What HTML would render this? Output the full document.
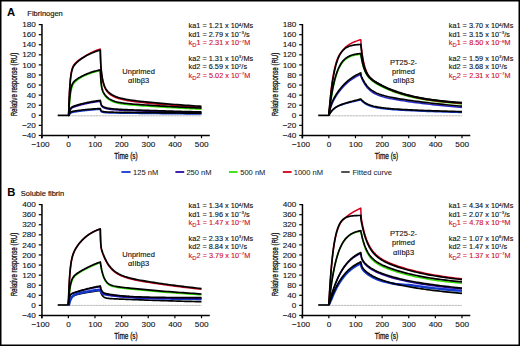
<!DOCTYPE html>
<html><head><meta charset="utf-8"><style>
html,body{margin:0;padding:0;background:#fff;}
svg{display:block;}
text{font-family:"Liberation Sans",sans-serif;fill:#111;}
.tk{font-size:7.2px;stroke:#111;stroke-width:0.1px;}
.ttl{font-size:8.6px;stroke:#111;stroke-width:0.3px;}
.pl{font-size:10.4px;font-weight:bold;fill:#000;}
.hd{font-size:7.5px;fill:#111;stroke:#111;stroke-width:0.15px;}
.kb{font-size:6.9px;fill:#111;stroke:#111;stroke-width:0.12px;}
.kr{font-size:6.9px;fill:#d0102a;stroke:#d0102a;stroke-width:0.12px;}
.lb{font-size:7.3px;fill:#111;stroke:#111;stroke-width:0.12px;}
.lg{font-size:7.2px;fill:#1a1a1a;stroke:#1a1a1a;stroke-width:0.05px;}
</style></head>
<body><svg width="520" height="346" viewBox="0 0 520 346">
<rect x="0.75" y="0.75" width="518.5" height="344.5" fill="none" stroke="#000" stroke-width="1.5"/>
<text transform="translate(6.90 16.00) scale(1.080 1)" class="pl">A</text>
<text transform="translate(27.30 15.50) scale(1.000 1)" class="hd">Fibrinogen</text>
<text transform="translate(7.20 196.30) scale(1.080 1)" class="pl">B</text>
<text transform="translate(20.80 195.50) scale(1.000 1)" class="hd">Soluble fibrin</text>
<path d="M41.95 24.00V138.35" stroke="#000" stroke-width="1.5" fill="none"/>
<path d="M41.20 135.45H209.80" stroke="#000" stroke-width="1.5" fill="none"/>
<path d="M38.75 24.60H41.95" stroke="#000" stroke-width="1.2"/>
<text transform="translate(35.90 27.20) scale(1.140 1)" class="tk" text-anchor="end">180</text>
<path d="M38.75 34.68H41.95" stroke="#000" stroke-width="1.2"/>
<text transform="translate(35.90 37.28) scale(1.140 1)" class="tk" text-anchor="end">160</text>
<path d="M38.75 44.75H41.95" stroke="#000" stroke-width="1.2"/>
<text transform="translate(35.90 47.35) scale(1.140 1)" class="tk" text-anchor="end">140</text>
<path d="M38.75 54.83H41.95" stroke="#000" stroke-width="1.2"/>
<text transform="translate(35.90 57.43) scale(1.140 1)" class="tk" text-anchor="end">120</text>
<path d="M38.75 64.91H41.95" stroke="#000" stroke-width="1.2"/>
<text transform="translate(35.90 67.51) scale(1.140 1)" class="tk" text-anchor="end">100</text>
<path d="M38.75 74.99H41.95" stroke="#000" stroke-width="1.2"/>
<text transform="translate(35.90 77.59) scale(1.140 1)" class="tk" text-anchor="end">80</text>
<path d="M38.75 85.06H41.95" stroke="#000" stroke-width="1.2"/>
<text transform="translate(35.90 87.66) scale(1.140 1)" class="tk" text-anchor="end">60</text>
<path d="M38.75 95.14H41.95" stroke="#000" stroke-width="1.2"/>
<text transform="translate(35.90 97.74) scale(1.140 1)" class="tk" text-anchor="end">40</text>
<path d="M38.75 105.22H41.95" stroke="#000" stroke-width="1.2"/>
<text transform="translate(35.90 107.82) scale(1.140 1)" class="tk" text-anchor="end">20</text>
<path d="M38.75 115.30H41.95" stroke="#000" stroke-width="1.2"/>
<text transform="translate(35.90 117.90) scale(1.140 1)" class="tk" text-anchor="end">0</text>
<path d="M38.75 125.37H41.95" stroke="#000" stroke-width="1.2"/>
<text transform="translate(35.90 127.97) scale(1.140 1)" class="tk" text-anchor="end">−20</text>
<path d="M38.75 135.45H41.95" stroke="#000" stroke-width="1.2"/>
<text transform="translate(35.90 138.05) scale(1.140 1)" class="tk" text-anchor="end">−40</text>
<path d="M41.72 135.45V138.25" stroke="#000" stroke-width="1.2"/>
<text transform="translate(40.42 146.65) scale(1.140 1)" class="tk" text-anchor="middle">−100</text>
<path d="M68.35 135.45V138.25" stroke="#000" stroke-width="1.2"/>
<text transform="translate(68.55 146.65) scale(1.140 1)" class="tk" text-anchor="middle">0</text>
<path d="M94.98 135.45V138.25" stroke="#000" stroke-width="1.2"/>
<text transform="translate(95.18 146.65) scale(1.140 1)" class="tk" text-anchor="middle">100</text>
<path d="M121.61 135.45V138.25" stroke="#000" stroke-width="1.2"/>
<text transform="translate(121.81 146.65) scale(1.140 1)" class="tk" text-anchor="middle">200</text>
<path d="M148.24 135.45V138.25" stroke="#000" stroke-width="1.2"/>
<text transform="translate(148.44 146.65) scale(1.140 1)" class="tk" text-anchor="middle">300</text>
<path d="M174.87 135.45V138.25" stroke="#000" stroke-width="1.2"/>
<text transform="translate(175.07 146.65) scale(1.140 1)" class="tk" text-anchor="middle">400</text>
<path d="M201.50 135.45V138.25" stroke="#000" stroke-width="1.2"/>
<text transform="translate(201.70 146.65) scale(1.140 1)" class="tk" text-anchor="middle">500</text>
<text x="114.30" y="159.30" class="ttl" textLength="23.4" lengthAdjust="spacingAndGlyphs">Time (s)</text>
<text transform="translate(17.30 116.30) rotate(-90)" class="ttl" textLength="63.6" lengthAdjust="spacingAndGlyphs">Relative response (RU)</text>
<line x1="68.35" y1="115.80" x2="201.50" y2="115.80" stroke="#b4b4b4" stroke-width="0.9" stroke-dasharray="2.6 0.4"/>
<path d="M57.70 115.40H68.65" stroke="#000" stroke-width="1.7" fill="none"/>
<path d="M68.35 115.40L68.48 115.40L68.62 115.40L68.75 115.40L68.88 115.40L69.02 115.40L69.15 115.20L69.28 114.98L69.42 114.80L69.55 114.53L69.68 114.30L69.81 114.09L69.95 113.90L70.08 113.74L70.21 113.59L70.35 113.46L70.48 113.34L70.61 113.24L70.75 113.14L70.88 113.06L71.01 112.98L71.41 112.79L71.81 112.64L72.21 112.52L72.61 112.42L73.01 112.33L73.41 112.25L73.81 112.17L74.21 112.10L74.61 112.03L75.01 111.96L75.41 111.90L75.81 111.84L76.21 111.78L76.61 111.72L77.00 111.66L77.40 111.60L77.80 111.54L78.20 111.48L78.60 111.43L79.00 111.37L79.80 111.26L80.60 111.16L81.40 111.06L82.20 110.96L83.00 110.86L83.80 110.77L84.59 110.67L85.39 110.59L86.19 110.50L86.99 110.41L87.79 110.33L88.59 110.25L89.39 110.17L90.19 110.10L90.99 110.02L91.78 109.95L92.58 109.88L93.38 109.82L94.18 109.75L94.98 109.68L95.78 109.62L96.58 109.56L97.38 109.50L98.18 109.44L98.97 109.39L99.77 109.33L100.31 109.30L100.41 109.77L100.52 110.17L100.63 110.50L100.73 110.77L100.84 111.00L100.95 111.20L101.05 111.36L101.16 111.50L101.26 111.62L101.37 111.72L101.48 111.81L101.58 111.88L101.69 111.95L101.80 112.01L101.90 112.06L102.01 112.10L102.12 112.14L102.22 112.18L102.33 112.22L102.44 112.25L102.54 112.28L102.65 112.30L102.76 112.33L102.86 112.35L102.97 112.37L103.37 112.45L103.77 112.51L104.17 112.56L104.57 112.61L104.97 112.65L105.37 112.69L105.77 112.72L106.16 112.75L106.56 112.78L106.96 112.81L107.36 112.83L107.76 112.85L108.16 112.87L108.56 112.89L108.96 112.91L109.36 112.92L109.76 112.94L110.16 112.95L110.56 112.96L110.96 112.97L112.02 113.00L113.09 113.02L114.15 113.04L115.22 113.06L116.28 113.08L117.35 113.10L118.41 113.11L119.48 113.13L120.54 113.14L121.61 113.16L122.68 113.17L123.74 113.19L124.81 113.20L125.87 113.21L126.94 113.23L128.00 113.24L129.07 113.25L130.13 113.27L131.20 113.28L132.26 113.29L134.93 113.33L137.59 113.36L140.25 113.39L142.91 113.42L145.58 113.45L148.24 113.49L150.90 113.52L153.57 113.55L156.23 113.58L158.89 113.61L161.56 113.63L164.22 113.66L166.88 113.69L169.54 113.72L172.21 113.75L174.87 113.78L177.53 113.80L180.20 113.83L182.86 113.86L185.52 113.88L188.19 113.91L190.85 113.94L193.51 113.96L196.17 113.99L198.84 114.01L201.50 114.04" fill="none" stroke="#1238cc" stroke-width="1.5" stroke-linejoin="round"/>
<path d="M68.35 115.40L68.48 115.40L68.62 115.40L68.75 115.40L68.88 115.40L69.02 114.81L69.15 114.06L69.28 113.42L69.42 112.87L69.55 112.28L69.68 111.75L69.81 111.29L69.95 110.88L70.08 110.52L70.21 110.20L70.35 109.92L70.48 109.66L70.61 109.43L70.75 109.23L70.88 109.05L71.01 108.88L71.41 108.47L71.81 108.14L72.21 107.88L72.61 107.67L73.01 107.47L73.41 107.30L73.81 107.14L74.21 106.99L74.61 106.85L75.01 106.71L75.41 106.58L75.81 106.45L76.21 106.32L76.61 106.20L77.00 106.07L77.40 105.95L77.80 105.83L78.20 105.71L78.60 105.60L79.00 105.48L79.80 105.26L80.60 105.04L81.40 104.83L82.20 104.63L83.00 104.43L83.80 104.23L84.59 104.04L85.39 103.86L86.19 103.68L86.99 103.51L87.79 103.34L88.59 103.18L89.39 103.02L90.19 102.86L90.99 102.71L91.78 102.56L92.58 102.42L93.38 102.28L94.18 102.15L94.98 102.02L95.78 101.89L96.58 101.77L97.38 101.65L98.18 101.53L98.97 101.42L99.77 101.31L100.31 101.23L100.41 101.91L100.52 102.51L100.63 103.04L100.73 103.51L100.84 103.92L100.95 104.29L101.05 104.62L101.16 104.92L101.26 105.18L101.37 105.42L101.48 105.64L101.58 105.83L101.69 106.00L101.80 106.16L101.90 106.31L102.01 106.44L102.12 106.57L102.22 106.68L102.33 106.79L102.44 106.88L102.54 106.98L102.65 107.06L102.76 107.14L102.86 107.22L102.97 107.29L103.37 107.53L103.77 107.73L104.17 107.91L104.57 108.06L104.97 108.21L105.37 108.34L105.77 108.46L106.16 108.57L106.56 108.67L106.96 108.77L107.36 108.86L107.76 108.94L108.16 109.02L108.56 109.09L108.96 109.16L109.36 109.23L109.76 109.29L110.16 109.35L110.56 109.40L110.96 109.45L112.02 109.58L113.09 109.69L114.15 109.78L115.22 109.87L116.28 109.94L117.35 110.01L118.41 110.08L119.48 110.14L120.54 110.20L121.61 110.25L122.68 110.30L123.74 110.35L124.81 110.40L125.87 110.44L126.94 110.49L128.00 110.53L129.07 110.57L130.13 110.62L131.20 110.66L132.26 110.70L134.93 110.80L137.59 110.90L140.25 110.99L142.91 111.09L145.58 111.18L148.24 111.27L150.90 111.35L153.57 111.44L156.23 111.53L158.89 111.61L161.56 111.69L164.22 111.77L166.88 111.85L169.54 111.93L172.21 112.01L174.87 112.08L177.53 112.15L180.20 112.23L182.86 112.30L185.52 112.37L188.19 112.44L190.85 112.50L193.51 112.57L196.17 112.63L198.84 112.70L201.50 112.76" fill="none" stroke="#2c0ca0" stroke-width="1.5" stroke-linejoin="round"/>
<path d="M68.35 115.40L68.48 115.40L68.62 115.40L68.75 114.73L68.88 112.37L69.02 110.28L69.15 108.44L69.28 106.82L69.42 105.40L69.55 103.58L69.68 101.92L69.81 100.40L69.95 99.02L70.08 97.75L70.21 96.60L70.35 95.53L70.48 94.56L70.61 93.66L70.75 92.84L70.88 92.07L71.01 91.37L71.41 89.54L71.81 88.05L72.21 86.81L72.61 85.77L73.01 84.85L73.41 84.04L73.81 83.37L74.21 82.89L74.61 82.46L75.01 82.05L75.41 81.67L75.81 81.31L76.21 80.97L76.61 80.64L77.00 80.32L77.40 80.01L77.80 79.71L78.20 79.41L78.60 79.12L79.00 78.84L79.80 78.29L80.60 77.76L81.40 77.25L82.20 76.81L83.00 76.41L83.80 76.02L84.59 75.65L85.39 75.29L86.19 74.95L86.99 74.62L87.79 74.30L88.59 73.99L89.39 73.70L90.19 73.42L90.99 73.15L91.78 72.88L92.58 72.63L93.38 72.39L94.18 72.16L94.98 71.93L95.78 71.72L96.58 71.51L97.38 71.31L98.18 71.12L98.97 70.94L99.77 70.76L100.31 70.65L100.41 73.07L100.52 75.22L100.63 77.13L100.73 78.83L100.84 80.34L100.95 81.64L101.05 82.80L101.16 83.84L101.26 84.77L101.37 85.61L101.48 86.36L101.58 87.05L101.69 87.67L101.80 88.24L101.90 88.76L102.01 89.24L102.12 89.68L102.22 90.08L102.33 90.46L102.44 90.81L102.54 91.14L102.65 91.45L102.76 91.75L102.86 92.02L102.97 92.29L103.37 93.17L103.77 93.92L104.17 94.60L104.57 95.20L104.97 95.76L105.37 96.27L105.77 96.75L106.16 97.19L106.56 97.61L106.96 98.00L107.36 98.37L107.76 98.71L108.16 99.04L108.56 99.34L108.96 99.63L109.36 99.90L109.76 100.16L110.16 100.40L110.56 100.63L110.96 100.84L112.02 101.36L113.09 101.81L114.15 102.20L115.22 102.54L116.28 102.83L117.35 103.09L118.41 103.33L119.48 103.53L120.54 103.72L121.61 103.89L122.68 104.05L123.74 104.19L124.81 104.32L125.87 104.45L126.94 104.56L128.00 104.67L129.07 104.78L130.13 104.88L131.20 104.97L132.26 105.06L134.93 105.28L137.59 105.49L140.25 105.69L142.91 105.88L145.58 106.06L148.24 106.25L150.90 106.42L153.57 106.59L156.23 106.76L158.89 106.93L161.56 107.09L164.22 107.26L166.88 107.41L169.54 107.57L172.21 107.72L174.87 107.87L177.53 108.02L180.20 108.17L182.86 108.31L185.52 108.45L188.19 108.59L190.85 108.72L193.51 108.86L196.17 108.99L198.84 109.12L201.50 109.24" fill="none" stroke="#33e000" stroke-width="1.5" stroke-linejoin="round"/>
<path d="M68.35 115.40L68.48 115.04L68.62 114.67L68.75 111.63L68.88 107.17L69.02 103.12L69.15 99.44L69.28 96.09L69.42 93.04L69.55 90.46L69.68 88.13L69.81 86.01L69.95 84.09L70.08 82.35L70.21 80.77L70.35 79.34L70.48 78.03L70.61 76.84L70.75 75.75L70.88 74.76L71.01 73.86L71.41 71.58L71.81 69.82L72.21 68.43L72.61 67.31L73.01 66.41L73.41 65.65L73.81 65.00L74.21 64.42L74.61 63.90L75.01 63.43L75.41 63.00L75.81 62.60L76.21 62.22L76.61 61.86L77.00 61.52L77.40 61.18L77.80 60.86L78.20 60.55L78.60 60.25L79.00 59.95L79.80 59.39L80.60 58.85L81.40 58.33L82.20 57.83L83.00 57.36L83.80 56.91L84.59 56.44L85.39 55.93L86.19 55.43L86.99 54.95L87.79 54.48L88.59 54.04L89.39 53.60L90.19 53.19L90.99 52.78L91.78 52.39L92.58 52.02L93.38 51.65L94.18 51.30L94.98 50.96L95.78 50.63L96.58 50.31L97.38 50.01L98.18 49.74L98.97 49.50L99.77 49.26L100.31 49.11L100.41 54.21L100.52 58.15L100.63 61.29L100.73 63.88L100.84 66.09L100.95 67.62L101.05 68.95L101.16 70.14L101.26 71.22L101.37 72.20L101.48 73.12L101.58 73.98L101.69 74.78L101.80 75.55L101.90 76.27L102.01 76.96L102.12 77.62L102.22 78.25L102.33 78.85L102.44 79.42L102.54 79.97L102.65 80.50L102.76 81.00L102.86 81.49L102.97 81.95L103.37 83.53L103.77 84.90L104.17 86.09L104.57 87.13L104.97 88.04L105.37 88.86L105.77 89.59L106.16 90.24L106.56 90.83L106.96 91.37L107.36 91.87L107.76 92.33L108.16 92.75L108.56 93.14L108.96 93.51L109.36 93.85L109.76 94.18L110.16 94.48L110.56 94.77L110.96 95.04L112.02 95.71L113.09 96.30L114.15 96.82L115.22 97.30L116.28 97.72L117.35 98.11L118.41 98.46L119.48 98.79L120.54 99.09L121.61 99.36L122.68 99.62L123.74 99.85L124.81 100.08L125.87 100.28L126.94 100.48L128.00 100.67L129.07 100.84L130.13 101.01L131.20 101.17L132.26 101.33L134.93 101.69L137.59 102.02L140.25 102.33L142.91 102.62L145.58 102.90L148.24 103.17L150.90 103.43L153.57 103.68L156.23 103.93L158.89 104.16L161.56 104.40L164.22 104.63L166.88 104.85L169.54 105.07L172.21 105.28L174.87 105.49L177.53 105.70L180.20 105.90L182.86 106.10L185.52 106.29L188.19 106.48L190.85 106.67L193.51 106.85L196.17 107.03L198.84 107.21L201.50 107.38" fill="none" stroke="#d0001c" stroke-width="1.5" stroke-linejoin="round"/>
<path d="M68.35 115.40L68.48 115.37L68.62 115.35L68.75 115.32L68.88 115.30L69.02 114.85L69.15 114.45L69.28 114.10L69.42 113.80L69.55 113.53L69.68 113.29L69.81 113.08L69.95 112.90L70.08 112.73L70.21 112.59L70.35 112.46L70.48 112.34L70.61 112.24L70.75 112.15L70.88 112.06L71.01 111.99L71.41 111.80L71.81 111.65L72.21 111.53L72.61 111.43L73.01 111.34L73.41 111.27L73.81 111.19L74.21 111.12L74.61 111.06L75.01 110.99L75.41 110.93L75.81 110.87L76.21 110.81L76.61 110.76L77.00 110.70L77.40 110.64L77.80 110.59L78.20 110.53L78.60 110.48L79.00 110.43L79.80 110.32L80.60 110.22L81.40 110.13L82.20 110.03L83.00 109.94L83.80 109.85L84.59 109.77L85.39 109.68L86.19 109.60L86.99 109.52L87.79 109.44L88.59 109.37L89.39 109.30L90.19 109.23L90.99 109.16L91.78 109.09L92.58 109.03L93.38 108.96L94.18 108.90L94.98 108.84L95.78 108.79L96.58 108.73L97.38 108.68L98.18 108.62L98.97 108.57L99.77 108.52L100.31 108.49L100.41 108.97L100.52 109.36L100.63 109.69L100.73 109.97L100.84 110.20L100.95 110.39L101.05 110.55L101.16 110.69L101.26 110.81L101.37 110.91L101.48 111.00L101.58 111.08L101.69 111.14L101.80 111.20L101.90 111.25L102.01 111.30L102.12 111.34L102.22 111.38L102.33 111.41L102.44 111.44L102.54 111.47L102.65 111.50L102.76 111.52L102.86 111.54L102.97 111.57L103.37 111.64L103.77 111.70L104.17 111.76L104.57 111.80L104.97 111.85L105.37 111.88L105.77 111.92L106.16 111.95L106.56 111.98L106.96 112.00L107.36 112.03L107.76 112.05L108.16 112.07L108.56 112.08L108.96 112.10L109.36 112.12L109.76 112.13L110.16 112.14L110.56 112.16L110.96 112.17L112.02 112.19L113.09 112.22L114.15 112.24L115.22 112.26L116.28 112.28L117.35 112.29L118.41 112.31L119.48 112.32L120.54 112.34L121.61 112.35L122.68 112.37L123.74 112.38L124.81 112.39L125.87 112.41L126.94 112.42L128.00 112.44L129.07 112.45L130.13 112.46L131.20 112.48L132.26 112.49L134.93 112.52L137.59 112.55L140.25 112.59L142.91 112.62L145.58 112.65L148.24 112.68L150.90 112.71L153.57 112.74L156.23 112.77L158.89 112.80L161.56 112.83L164.22 112.86L166.88 112.89L169.54 112.92L172.21 112.94L174.87 112.97L177.53 113.00L180.20 113.02L182.86 113.05L185.52 113.08L188.19 113.10L190.85 113.13L193.51 113.16L196.17 113.18L198.84 113.21L201.50 113.23" fill="none" stroke="#000" stroke-width="1.7" stroke-linejoin="round"/>
<path d="M68.35 115.40L68.48 115.35L68.62 115.29L68.75 115.24L68.88 115.18L69.02 114.18L69.15 113.31L69.28 112.54L69.42 111.86L69.55 111.27L69.68 110.75L69.81 110.29L69.95 109.88L70.08 109.52L70.21 109.20L70.35 108.92L70.48 108.66L70.61 108.44L70.75 108.23L70.88 108.05L71.01 107.88L71.41 107.47L71.81 107.15L72.21 106.90L72.61 106.68L73.01 106.49L73.41 106.32L73.81 106.17L74.21 106.02L74.61 105.88L75.01 105.74L75.41 105.61L75.81 105.48L76.21 105.36L76.61 105.24L77.00 105.12L77.40 105.00L77.80 104.88L78.20 104.76L78.60 104.65L79.00 104.54L79.80 104.32L80.60 104.11L81.40 103.90L82.20 103.70L83.00 103.51L83.80 103.32L84.59 103.13L85.39 102.96L86.19 102.78L86.99 102.62L87.79 102.45L88.59 102.29L89.39 102.14L90.19 101.99L90.99 101.84L91.78 101.70L92.58 101.57L93.38 101.43L94.18 101.30L94.98 101.18L95.78 101.06L96.58 100.94L97.38 100.82L98.18 100.71L98.97 100.60L99.77 100.50L100.31 100.43L100.41 101.11L100.52 101.70L100.63 102.23L100.73 102.70L100.84 103.12L100.95 103.49L101.05 103.82L101.16 104.11L101.26 104.38L101.37 104.62L101.48 104.83L101.58 105.02L101.69 105.20L101.80 105.36L101.90 105.51L102.01 105.64L102.12 105.76L102.22 105.88L102.33 105.98L102.44 106.08L102.54 106.17L102.65 106.26L102.76 106.34L102.86 106.41L102.97 106.48L103.37 106.72L103.77 106.92L104.17 107.10L104.57 107.26L104.97 107.40L105.37 107.53L105.77 107.65L106.16 107.76L106.56 107.87L106.96 107.96L107.36 108.05L107.76 108.14L108.16 108.22L108.56 108.29L108.96 108.36L109.36 108.42L109.76 108.48L110.16 108.54L110.56 108.60L110.96 108.65L112.02 108.77L113.09 108.88L114.15 108.98L115.22 109.06L116.28 109.14L117.35 109.21L118.41 109.27L119.48 109.33L120.54 109.39L121.61 109.44L122.68 109.49L123.74 109.54L124.81 109.59L125.87 109.64L126.94 109.68L128.00 109.73L129.07 109.77L130.13 109.81L131.20 109.85L132.26 109.89L134.93 109.99L137.59 110.09L140.25 110.19L142.91 110.28L145.58 110.37L148.24 110.46L150.90 110.55L153.57 110.64L156.23 110.72L158.89 110.80L161.56 110.89L164.22 110.97L166.88 111.05L169.54 111.12L172.21 111.20L174.87 111.27L177.53 111.35L180.20 111.42L182.86 111.49L185.52 111.56L188.19 111.63L190.85 111.70L193.51 111.76L196.17 111.83L198.84 111.89L201.50 111.95" fill="none" stroke="#000" stroke-width="1.7" stroke-linejoin="round"/>
<path d="M68.35 115.40L68.48 115.27L68.62 115.13L68.75 113.22L68.88 110.35L69.02 107.76L69.15 105.42L69.28 103.29L69.42 101.37L69.55 99.63L69.68 98.05L69.81 96.61L69.95 95.31L70.08 94.12L70.21 93.04L70.35 92.06L70.48 91.16L70.61 90.34L70.75 89.59L70.88 88.91L71.01 88.28L71.41 86.69L71.81 85.44L72.21 84.44L72.61 83.63L73.01 82.95L73.41 82.37L73.81 81.87L74.21 81.43L74.61 81.03L75.01 80.67L75.41 80.32L75.81 80.00L76.21 79.70L76.61 79.41L77.00 79.12L77.40 78.85L77.80 78.59L78.20 78.33L78.60 78.08L79.00 77.83L79.80 77.36L80.60 76.91L81.40 76.47L82.20 76.05L83.00 75.65L83.80 75.27L84.59 74.89L85.39 74.54L86.19 74.19L86.99 73.86L87.79 73.55L88.59 73.24L89.39 72.95L90.19 72.66L90.99 72.39L91.78 72.13L92.58 71.88L93.38 71.64L94.18 71.40L94.98 71.18L95.78 70.96L96.58 70.76L97.38 70.56L98.18 70.37L98.97 70.18L99.77 70.01L100.31 69.89L100.41 72.27L100.52 74.37L100.63 76.22L100.73 77.87L100.84 79.33L100.95 80.63L101.05 81.79L101.16 82.83L101.26 83.76L101.37 84.60L101.48 85.36L101.58 86.04L101.69 86.66L101.80 87.23L101.90 87.75L102.01 88.23L102.12 88.67L102.22 89.07L102.33 89.45L102.44 89.81L102.54 90.14L102.65 90.45L102.76 90.74L102.86 91.01L102.97 91.28L103.37 92.16L103.77 92.91L104.17 93.58L104.57 94.19L104.97 94.75L105.37 95.26L105.77 95.73L106.16 96.18L106.56 96.60L106.96 96.99L107.36 97.35L107.76 97.70L108.16 98.02L108.56 98.33L108.96 98.62L109.36 98.89L109.76 99.14L110.16 99.38L110.56 99.61L110.96 99.83L112.02 100.34L113.09 100.79L114.15 101.18L115.22 101.51L116.28 101.81L117.35 102.07L118.41 102.30L119.48 102.51L120.54 102.69L121.61 102.86L122.68 103.02L123.74 103.16L124.81 103.29L125.87 103.41L126.94 103.53L128.00 103.64L129.07 103.74L130.13 103.84L131.20 103.93L132.26 104.03L134.93 104.24L137.59 104.45L140.25 104.64L142.91 104.83L145.58 105.01L148.24 105.19L150.90 105.36L153.57 105.53L156.23 105.70L158.89 105.87L161.56 106.03L164.22 106.18L166.88 106.34L169.54 106.49L172.21 106.64L174.87 106.79L177.53 106.94L180.20 107.08L182.86 107.22L185.52 107.36L188.19 107.49L190.85 107.63L193.51 107.76L196.17 107.89L198.84 108.01L201.50 108.14" fill="none" stroke="#000" stroke-width="1.7" stroke-linejoin="round"/>
<path d="M68.35 115.40L68.48 115.22L68.62 115.05L68.75 112.20L68.88 107.93L69.02 104.07L69.15 100.57L69.28 97.41L69.42 94.55L69.55 91.96L69.68 89.61L69.81 87.48L69.95 85.54L70.08 83.79L70.21 82.19L70.35 80.74L70.48 79.41L70.61 78.21L70.75 77.11L70.88 76.10L71.01 75.18L71.41 72.86L71.81 71.04L72.21 69.61L72.61 68.45L73.01 67.49L73.41 66.69L73.81 66.00L74.21 65.39L74.61 64.84L75.01 64.35L75.41 63.89L75.81 63.46L76.21 63.05L76.61 62.66L77.00 62.29L77.40 61.93L77.80 61.58L78.20 61.24L78.60 60.91L79.00 60.58L79.80 59.96L80.60 59.36L81.40 58.79L82.20 58.24L83.00 57.71L83.80 57.20L84.59 56.71L85.39 56.24L86.19 55.79L86.99 55.35L87.79 54.93L88.59 54.53L89.39 54.14L90.19 53.77L90.99 53.41L91.78 53.07L92.58 52.74L93.38 52.42L94.18 52.11L94.98 51.82L95.78 51.53L96.58 51.26L97.38 51.00L98.18 50.75L98.97 50.50L99.77 50.27L100.31 50.12L100.41 54.81L100.52 58.35L100.63 61.09L100.73 63.28L100.84 65.08L100.95 66.61L101.05 67.95L101.16 69.13L101.26 70.21L101.37 71.20L101.48 72.11L101.58 72.97L101.69 73.78L101.80 74.54L101.90 75.27L102.01 75.96L102.12 76.61L102.22 77.24L102.33 77.84L102.44 78.42L102.54 78.97L102.65 79.49L102.76 80.00L102.86 80.48L102.97 80.94L103.37 82.53L103.77 83.89L104.17 85.08L104.57 86.12L104.97 87.04L105.37 87.85L105.77 88.58L106.16 89.23L106.56 89.83L106.96 90.37L107.36 90.86L107.76 91.32L108.16 91.74L108.56 92.13L108.96 92.50L109.36 92.84L109.76 93.17L110.16 93.47L110.56 93.76L110.96 94.04L112.02 94.70L113.09 95.29L114.15 95.82L115.22 96.29L116.28 96.72L117.35 97.10L118.41 97.46L119.48 97.78L120.54 98.08L121.61 98.35L122.68 98.61L123.74 98.85L124.81 99.07L125.87 99.28L126.94 99.47L128.00 99.66L129.07 99.84L130.13 100.00L131.20 100.16L132.26 100.32L134.93 100.68L137.59 101.01L140.25 101.32L142.91 101.61L145.58 101.89L148.24 102.16L150.90 102.42L153.57 102.67L156.23 102.92L158.89 103.16L161.56 103.39L164.22 103.62L166.88 103.84L169.54 104.06L172.21 104.27L174.87 104.48L177.53 104.69L180.20 104.89L182.86 105.09L185.52 105.28L188.19 105.47L190.85 105.66L193.51 105.84L196.17 106.02L198.84 106.20L201.50 106.37" fill="none" stroke="#000" stroke-width="1.7" stroke-linejoin="round"/>
<path d="M302.45 24.00V138.35" stroke="#000" stroke-width="1.5" fill="none"/>
<path d="M301.70 135.45H470.30" stroke="#000" stroke-width="1.5" fill="none"/>
<path d="M299.25 24.60H302.45" stroke="#000" stroke-width="1.2"/>
<text transform="translate(296.40 27.20) scale(1.140 1)" class="tk" text-anchor="end">180</text>
<path d="M299.25 34.68H302.45" stroke="#000" stroke-width="1.2"/>
<text transform="translate(296.40 37.28) scale(1.140 1)" class="tk" text-anchor="end">160</text>
<path d="M299.25 44.75H302.45" stroke="#000" stroke-width="1.2"/>
<text transform="translate(296.40 47.35) scale(1.140 1)" class="tk" text-anchor="end">140</text>
<path d="M299.25 54.83H302.45" stroke="#000" stroke-width="1.2"/>
<text transform="translate(296.40 57.43) scale(1.140 1)" class="tk" text-anchor="end">120</text>
<path d="M299.25 64.91H302.45" stroke="#000" stroke-width="1.2"/>
<text transform="translate(296.40 67.51) scale(1.140 1)" class="tk" text-anchor="end">100</text>
<path d="M299.25 74.99H302.45" stroke="#000" stroke-width="1.2"/>
<text transform="translate(296.40 77.59) scale(1.140 1)" class="tk" text-anchor="end">80</text>
<path d="M299.25 85.06H302.45" stroke="#000" stroke-width="1.2"/>
<text transform="translate(296.40 87.66) scale(1.140 1)" class="tk" text-anchor="end">60</text>
<path d="M299.25 95.14H302.45" stroke="#000" stroke-width="1.2"/>
<text transform="translate(296.40 97.74) scale(1.140 1)" class="tk" text-anchor="end">40</text>
<path d="M299.25 105.22H302.45" stroke="#000" stroke-width="1.2"/>
<text transform="translate(296.40 107.82) scale(1.140 1)" class="tk" text-anchor="end">20</text>
<path d="M299.25 115.30H302.45" stroke="#000" stroke-width="1.2"/>
<text transform="translate(296.40 117.90) scale(1.140 1)" class="tk" text-anchor="end">0</text>
<path d="M299.25 125.37H302.45" stroke="#000" stroke-width="1.2"/>
<text transform="translate(296.40 127.97) scale(1.140 1)" class="tk" text-anchor="end">−20</text>
<path d="M299.25 135.45H302.45" stroke="#000" stroke-width="1.2"/>
<text transform="translate(296.40 138.05) scale(1.140 1)" class="tk" text-anchor="end">−40</text>
<path d="M302.22 135.45V138.25" stroke="#000" stroke-width="1.2"/>
<text transform="translate(300.92 146.65) scale(1.140 1)" class="tk" text-anchor="middle">−100</text>
<path d="M328.85 135.45V138.25" stroke="#000" stroke-width="1.2"/>
<text transform="translate(329.05 146.65) scale(1.140 1)" class="tk" text-anchor="middle">0</text>
<path d="M355.48 135.45V138.25" stroke="#000" stroke-width="1.2"/>
<text transform="translate(355.68 146.65) scale(1.140 1)" class="tk" text-anchor="middle">100</text>
<path d="M382.11 135.45V138.25" stroke="#000" stroke-width="1.2"/>
<text transform="translate(382.31 146.65) scale(1.140 1)" class="tk" text-anchor="middle">200</text>
<path d="M408.74 135.45V138.25" stroke="#000" stroke-width="1.2"/>
<text transform="translate(408.94 146.65) scale(1.140 1)" class="tk" text-anchor="middle">300</text>
<path d="M435.37 135.45V138.25" stroke="#000" stroke-width="1.2"/>
<text transform="translate(435.57 146.65) scale(1.140 1)" class="tk" text-anchor="middle">400</text>
<path d="M462.00 135.45V138.25" stroke="#000" stroke-width="1.2"/>
<text transform="translate(462.20 146.65) scale(1.140 1)" class="tk" text-anchor="middle">500</text>
<text x="374.80" y="159.30" class="ttl" textLength="23.4" lengthAdjust="spacingAndGlyphs">Time (s)</text>
<text transform="translate(277.80 116.30) rotate(-90)" class="ttl" textLength="63.6" lengthAdjust="spacingAndGlyphs">Relative response (RU)</text>
<line x1="328.85" y1="115.80" x2="462.00" y2="115.80" stroke="#b4b4b4" stroke-width="0.9" stroke-dasharray="2.6 0.4"/>
<path d="M318.20 115.40H329.15" stroke="#000" stroke-width="1.7" fill="none"/>
<path d="M328.85 115.40L328.98 115.14L329.12 114.89L329.25 114.65L329.38 114.41L329.52 114.18L329.65 113.95L329.78 113.73L329.92 113.51L330.05 113.30L330.18 113.09L330.31 112.89L330.45 112.70L330.58 112.50L330.71 112.32L330.85 112.13L330.98 111.95L331.11 111.78L331.25 111.60L331.38 111.44L331.51 111.27L331.91 110.80L332.31 110.36L332.71 109.95L333.11 109.56L333.51 109.20L333.91 108.86L334.31 108.54L334.71 108.23L335.11 107.95L335.51 107.68L335.91 107.42L336.31 107.18L336.71 106.94L337.11 106.72L337.50 106.51L337.90 106.31L338.30 106.12L338.70 105.94L339.10 105.76L339.50 105.59L340.30 105.27L341.10 104.97L341.90 104.69L342.70 104.42L343.50 104.17L344.30 103.93L345.09 103.69L345.89 103.47L346.69 103.25L347.49 103.04L348.29 102.83L349.09 102.62L349.89 102.42L350.69 102.23L351.49 102.03L352.28 101.84L353.08 101.65L353.88 101.46L354.68 101.27L355.48 101.08L356.28 100.90L357.08 100.71L357.88 100.53L358.68 100.34L359.47 100.16L360.27 99.98L360.81 99.86L360.91 99.98L361.02 100.10L361.13 100.22L361.23 100.34L361.34 100.46L361.45 100.57L361.55 100.68L361.66 100.79L361.76 100.90L361.87 101.01L361.98 101.12L362.08 101.22L362.19 101.32L362.30 101.42L362.40 101.52L362.51 101.62L362.62 101.72L362.72 101.81L362.83 101.91L362.94 102.00L363.04 102.09L363.15 102.18L363.26 102.27L363.36 102.35L363.47 102.44L363.87 102.75L364.27 103.04L364.67 103.32L365.07 103.58L365.47 103.83L365.87 104.07L366.27 104.30L366.66 104.51L367.06 104.71L367.46 104.91L367.86 105.09L368.26 105.27L368.66 105.44L369.06 105.60L369.46 105.75L369.86 105.90L370.26 106.04L370.66 106.17L371.06 106.30L371.46 106.43L372.52 106.74L373.59 107.01L374.65 107.26L375.72 107.49L376.78 107.70L377.85 107.90L378.91 108.08L379.98 108.24L381.04 108.40L382.11 108.54L383.18 108.68L384.24 108.81L385.31 108.93L386.37 109.04L387.44 109.15L388.50 109.26L389.57 109.36L390.63 109.45L391.70 109.54L392.76 109.63L395.43 109.83L398.09 110.01L400.75 110.18L403.41 110.34L406.08 110.48L408.74 110.62L411.40 110.75L414.07 110.87L416.73 110.99L419.39 111.10L422.06 111.20L424.72 111.31L427.38 111.40L430.04 111.50L432.71 111.59L435.37 111.68L438.03 111.76L440.70 111.85L443.36 111.93L446.02 112.01L448.69 112.09L451.35 112.16L454.01 112.24L456.67 112.31L459.34 112.38L462.00 112.45" fill="none" stroke="#1238cc" stroke-width="1.5" stroke-linejoin="round"/>
<path d="M328.85 115.40L328.98 114.55L329.12 113.76L329.25 113.02L329.38 112.33L329.52 111.68L329.65 111.07L329.78 110.50L329.92 109.96L330.05 109.45L330.18 108.97L330.31 108.52L330.45 108.09L330.58 107.69L330.71 107.30L330.85 106.93L330.98 106.58L331.11 106.24L331.25 105.92L331.38 105.61L331.51 105.31L331.91 104.26L332.31 103.29L332.71 102.38L333.11 101.53L333.51 100.72L333.91 99.95L334.31 99.20L334.71 98.49L335.11 97.79L335.51 97.12L335.91 96.46L336.31 95.83L336.71 95.21L337.11 94.60L337.50 94.01L337.90 93.43L338.30 92.86L338.70 92.31L339.10 91.77L339.50 91.24L340.30 90.21L341.10 89.23L341.90 88.29L342.70 87.38L343.50 86.52L344.30 85.68L345.09 84.89L345.89 84.12L346.69 83.39L347.49 82.69L348.29 82.01L349.09 81.37L349.89 80.75L350.69 80.15L351.49 79.58L352.28 79.04L353.08 78.51L353.88 78.01L354.68 77.53L355.48 77.07L356.28 76.62L357.08 76.20L357.88 75.79L358.68 75.40L359.47 75.02L360.27 74.66L360.81 74.43L360.91 76.12L361.02 76.67L361.13 76.99L361.23 77.27L361.34 77.53L361.45 77.79L361.55 78.04L361.66 78.29L361.76 78.53L361.87 78.77L361.98 79.01L362.08 79.25L362.19 79.48L362.30 79.71L362.40 79.94L362.51 80.16L362.62 80.38L362.72 80.60L362.83 80.81L362.94 81.02L363.04 81.23L363.15 81.44L363.26 81.64L363.36 81.84L363.47 82.04L363.87 82.76L364.27 83.45L364.67 84.10L365.07 84.72L365.47 85.31L365.87 85.88L366.27 86.42L366.66 86.93L367.06 87.42L367.46 87.89L367.86 88.33L368.26 88.76L368.66 89.17L369.06 89.56L369.46 89.93L369.86 90.29L370.26 90.63L370.66 90.96L371.06 91.27L371.46 91.57L372.52 92.32L373.59 92.99L374.65 93.59L375.72 94.14L376.78 94.63L377.85 95.09L378.91 95.51L379.98 95.89L381.04 96.25L382.11 96.58L383.18 96.90L384.24 97.19L385.31 97.47L386.37 97.73L387.44 97.98L388.50 98.22L389.57 98.45L390.63 98.67L391.70 98.88L392.76 99.09L395.43 99.57L398.09 100.03L400.75 100.47L403.41 100.88L406.08 101.28L408.74 101.67L411.40 102.04L414.07 102.41L416.73 102.76L419.39 103.10L422.06 103.43L424.72 103.76L427.38 104.07L430.04 104.38L432.71 104.68L435.37 104.97L438.03 105.26L440.70 105.53L443.36 105.81L446.02 106.07L448.69 106.33L451.35 106.58L454.01 106.82L456.67 107.06L459.34 107.29L462.00 107.52" fill="none" stroke="#2a2ad0" stroke-width="1.5" stroke-linejoin="round"/>
<path d="M328.85 115.40L328.98 114.28L329.12 113.19L329.25 112.11L329.38 111.06L329.52 110.03L329.65 109.02L329.78 108.03L329.92 107.06L330.05 106.12L330.18 105.19L330.31 104.28L330.45 103.39L330.58 102.52L330.71 101.66L330.85 100.83L330.98 100.01L331.11 99.21L331.25 98.42L331.38 97.65L331.51 96.90L331.91 94.49L332.31 92.21L332.71 90.05L333.11 88.02L333.51 86.10L333.91 84.28L334.31 82.57L334.71 80.95L335.11 79.42L335.51 77.98L335.91 76.62L336.31 75.33L336.71 74.11L337.11 72.96L337.50 71.87L337.90 70.84L338.30 69.87L338.70 68.95L339.10 68.09L339.50 67.26L340.30 65.80L341.10 64.49L341.90 63.32L342.70 62.28L343.50 61.35L344.30 60.53L345.09 59.79L345.89 59.13L346.69 58.54L347.49 58.02L348.29 57.55L349.09 57.13L349.89 56.76L350.69 56.43L351.49 56.13L352.28 55.86L353.08 55.63L353.88 55.41L354.68 55.22L355.48 55.05L356.28 54.90L357.08 54.76L357.88 54.64L358.68 54.52L359.47 54.42L360.27 54.33L360.81 54.28L360.91 55.00L361.02 55.69L361.13 56.36L361.23 57.02L361.34 57.65L361.45 58.27L361.55 58.87L361.66 59.45L361.76 60.01L361.87 60.56L361.98 61.10L362.08 61.61L362.19 62.12L362.30 62.60L362.40 63.08L362.51 63.54L362.62 63.99L362.72 64.43L362.83 64.85L362.94 65.26L363.04 65.66L363.15 66.06L363.26 66.44L363.36 66.81L363.47 67.17L363.87 68.44L364.27 69.59L364.67 70.63L365.07 71.59L365.47 72.46L365.87 73.27L366.27 74.01L366.66 74.69L367.06 75.32L367.46 75.91L367.86 76.46L368.26 76.97L368.66 77.46L369.06 77.91L369.46 78.34L369.86 78.75L370.26 79.14L370.66 79.52L371.06 79.87L371.46 80.22L372.52 81.07L373.59 81.86L374.65 82.59L375.72 83.28L376.78 83.93L377.85 84.56L378.91 85.16L379.98 85.73L381.04 86.29L382.11 86.83L383.18 87.36L384.24 87.87L385.31 88.36L386.37 88.84L387.44 89.31L388.50 89.76L389.57 90.20L390.63 90.64L391.70 91.05L392.76 91.46L395.43 92.43L398.09 93.35L400.75 94.20L403.41 94.99L406.08 95.74L408.74 96.44L411.40 97.09L414.07 97.70L416.73 98.27L419.39 98.81L422.06 99.31L424.72 99.78L427.38 100.22L430.04 100.63L432.71 101.01L435.37 101.37L438.03 101.71L440.70 102.03L443.36 102.32L446.02 102.60L448.69 102.86L451.35 103.10L454.01 103.33L456.67 103.54L459.34 103.74L462.00 103.93" fill="none" stroke="#33e000" stroke-width="1.5" stroke-linejoin="round"/>
<path d="M328.85 115.40L328.98 113.65L329.12 111.93L329.25 110.25L329.38 108.61L329.52 107.00L329.65 105.42L329.78 103.88L329.92 102.37L330.05 100.89L330.18 99.45L330.31 98.03L330.45 96.64L330.58 95.28L330.71 93.95L330.85 92.65L330.98 91.37L331.11 90.12L331.25 88.90L331.38 87.70L331.51 86.52L331.91 83.59L332.31 80.87L332.71 78.32L333.11 75.96L333.51 73.76L333.91 71.71L334.31 69.80L334.71 68.02L335.11 66.37L335.51 64.84L335.91 63.41L336.31 62.08L336.71 60.85L337.11 59.73L337.50 58.71L337.90 57.76L338.30 56.88L338.70 56.07L339.10 55.32L339.50 54.62L340.30 53.40L341.10 52.36L341.90 51.49L342.70 50.47L343.50 49.43L344.30 48.49L345.09 47.66L345.89 46.90L346.69 46.22L347.49 45.60L348.29 45.03L349.09 44.51L349.89 44.03L350.69 43.58L351.49 43.17L352.28 42.78L353.08 42.42L353.88 42.07L354.68 41.75L355.48 41.44L356.28 41.14L357.08 40.86L357.88 40.59L358.68 40.32L359.47 40.06L360.27 39.81L360.81 39.65L360.91 41.20L361.02 42.72L361.13 44.20L361.23 45.64L361.34 47.05L361.45 48.00L361.55 48.93L361.66 49.82L361.76 50.68L361.87 51.52L361.98 52.32L362.08 53.11L362.19 53.86L362.30 54.60L362.40 55.30L362.51 55.99L362.62 56.66L362.72 57.30L362.83 57.92L362.94 58.53L363.04 59.11L363.15 59.68L363.26 60.23L363.36 60.77L363.47 61.29L363.87 63.10L364.27 64.73L364.67 66.19L365.07 67.51L365.47 68.71L365.87 69.80L366.27 70.80L366.66 71.72L367.06 72.57L367.46 73.36L367.86 74.10L368.26 74.78L368.66 75.43L369.06 76.04L369.46 76.62L369.86 77.18L370.26 77.71L370.66 78.22L371.06 78.71L371.46 79.18L372.52 80.06L373.59 80.87L374.65 81.62L375.72 82.32L376.78 82.99L377.85 83.63L378.91 84.24L379.98 84.83L381.04 85.40L382.11 85.96L383.18 86.50L384.24 87.02L385.31 87.53L386.37 88.02L387.44 88.50L388.50 88.97L389.57 89.42L390.63 89.86L391.70 90.30L392.76 90.71L395.43 91.71L398.09 92.65L400.75 93.52L403.41 94.34L406.08 95.10L408.74 95.81L411.40 96.48L414.07 97.11L416.73 97.69L419.39 98.24L422.06 98.75L424.72 99.22L427.38 99.67L430.04 100.09L432.71 100.48L435.37 100.85L438.03 101.19L440.70 101.51L443.36 101.81L446.02 102.09L448.69 102.35L451.35 102.60L454.01 102.83L456.67 103.05L459.34 103.25L462.00 103.44" fill="none" stroke="#d0001c" stroke-width="1.5" stroke-linejoin="round"/>
<path d="M328.85 115.40L328.98 115.14L329.12 114.89L329.25 114.64L329.38 114.40L329.52 114.16L329.65 113.93L329.78 113.71L329.92 113.49L330.05 113.27L330.18 113.06L330.31 112.86L330.45 112.66L330.58 112.46L330.71 112.27L330.85 112.08L330.98 111.90L331.11 111.72L331.25 111.54L331.38 111.37L331.51 111.21L331.91 110.73L332.31 110.28L332.71 109.85L333.11 109.46L333.51 109.08L333.91 108.73L334.31 108.40L334.71 108.09L335.11 107.79L335.51 107.51L335.91 107.24L336.31 106.99L336.71 106.75L337.11 106.52L337.50 106.30L337.90 106.09L338.30 105.88L338.70 105.69L339.10 105.50L339.50 105.32L340.30 104.98L341.10 104.66L341.90 104.36L342.70 104.07L343.50 103.80L344.30 103.54L345.09 103.28L345.89 103.04L346.69 102.80L347.49 102.57L348.29 102.34L349.09 102.11L349.89 101.89L350.69 101.68L351.49 101.46L352.28 101.25L353.08 101.04L353.88 100.83L354.68 100.62L355.48 100.41L356.28 100.20L357.08 100.00L357.88 99.79L358.68 99.59L359.47 99.39L360.27 99.18L360.81 99.05L360.91 99.17L361.02 99.30L361.13 99.42L361.23 99.53L361.34 99.65L361.45 99.76L361.55 99.88L361.66 99.99L361.76 100.10L361.87 100.20L361.98 100.31L362.08 100.41L362.19 100.52L362.30 100.62L362.40 100.72L362.51 100.82L362.62 100.91L362.72 101.01L362.83 101.10L362.94 101.19L363.04 101.28L363.15 101.37L363.26 101.46L363.36 101.55L363.47 101.63L363.87 101.94L364.27 102.24L364.67 102.52L365.07 102.78L365.47 103.03L365.87 103.27L366.27 103.49L366.66 103.70L367.06 103.91L367.46 104.10L367.86 104.29L368.26 104.46L368.66 104.63L369.06 104.79L369.46 104.95L369.86 105.09L370.26 105.23L370.66 105.37L371.06 105.50L371.46 105.62L372.52 105.93L373.59 106.21L374.65 106.46L375.72 106.69L376.78 106.90L377.85 107.09L378.91 107.27L379.98 107.44L381.04 107.59L382.11 107.74L383.18 107.87L384.24 108.00L385.31 108.12L386.37 108.24L387.44 108.35L388.50 108.45L389.57 108.55L390.63 108.64L391.70 108.73L392.76 108.82L395.43 109.02L398.09 109.21L400.75 109.38L403.41 109.53L406.08 109.68L408.74 109.82L411.40 109.94L414.07 110.07L416.73 110.18L419.39 110.29L422.06 110.40L424.72 110.50L427.38 110.60L430.04 110.69L432.71 110.78L435.37 110.87L438.03 110.96L440.70 111.04L443.36 111.12L446.02 111.20L448.69 111.28L451.35 111.36L454.01 111.43L456.67 111.50L459.34 111.57L462.00 111.64" fill="none" stroke="#000" stroke-width="1.7" stroke-linejoin="round"/>
<path d="M328.85 115.40L328.98 114.47L329.12 113.61L329.25 112.79L329.38 112.02L329.52 111.30L329.65 110.62L329.78 109.97L329.92 109.36L330.05 108.77L330.18 108.22L330.31 107.69L330.45 107.19L330.58 106.70L330.71 106.24L330.85 105.80L330.98 105.37L331.11 104.96L331.25 104.56L331.38 104.18L331.51 103.80L331.91 102.75L332.31 101.78L332.71 100.87L333.11 100.02L333.51 99.21L333.91 98.44L334.31 97.69L334.71 96.97L335.11 96.28L335.51 95.61L335.91 94.95L336.31 94.32L336.71 93.69L337.11 93.09L337.50 92.50L337.90 91.92L338.30 91.35L338.70 90.80L339.10 90.26L339.50 89.73L340.30 88.70L341.10 87.72L341.90 86.78L342.70 85.87L343.50 85.00L344.30 84.17L345.09 83.38L345.89 82.61L346.69 81.88L347.49 81.18L348.29 80.50L349.09 79.86L349.89 79.24L350.69 78.64L351.49 78.07L352.28 77.53L353.08 77.00L353.88 76.50L354.68 76.02L355.48 75.56L356.28 75.11L357.08 74.69L357.88 74.28L358.68 73.89L359.47 73.51L360.27 73.15L360.81 72.92L360.91 74.61L361.02 75.16L361.13 75.48L361.23 75.76L361.34 76.02L361.45 76.28L361.55 76.53L361.66 76.78L361.76 77.02L361.87 77.26L361.98 77.50L362.08 77.74L362.19 77.97L362.30 78.20L362.40 78.43L362.51 78.65L362.62 78.87L362.72 79.09L362.83 79.30L362.94 79.52L363.04 79.73L363.15 79.93L363.26 80.14L363.36 80.34L363.47 80.53L363.87 81.26L364.27 81.94L364.67 82.60L365.07 83.22L365.47 83.81L365.87 84.38L366.27 84.92L366.66 85.43L367.06 85.92L367.46 86.39L367.86 86.84L368.26 87.27L368.66 87.67L369.06 88.07L369.46 88.44L369.86 88.80L370.26 89.14L370.66 89.47L371.06 89.78L371.46 90.08L372.52 90.83L373.59 91.50L374.65 92.11L375.72 92.66L376.78 93.16L377.85 93.61L378.91 94.03L379.98 94.42L381.04 94.78L382.11 95.12L383.18 95.43L384.24 95.72L385.31 96.00L386.37 96.27L387.44 96.52L388.50 96.76L389.57 96.99L390.63 97.22L391.70 97.43L392.76 97.64L395.43 98.13L398.09 98.60L400.75 99.04L403.41 99.46L406.08 99.86L408.74 100.26L411.40 100.63L414.07 101.00L416.73 101.36L419.39 101.71L422.06 102.04L424.72 102.37L427.38 102.69L430.04 103.01L432.71 103.31L435.37 103.61L438.03 103.90L440.70 104.18L443.36 104.46L446.02 104.73L448.69 104.99L451.35 105.25L454.01 105.50L456.67 105.74L459.34 105.98L462.00 106.21" fill="none" stroke="#000" stroke-width="1.7" stroke-linejoin="round"/>
<path d="M328.85 115.40L328.98 114.21L329.12 113.03L329.25 111.88L329.38 110.76L329.52 109.65L329.65 108.57L329.78 107.50L329.92 106.46L330.05 105.44L330.18 104.43L330.31 103.45L330.45 102.48L330.58 101.53L330.71 100.61L330.85 99.69L330.98 98.80L331.11 97.92L331.25 97.06L331.38 96.22L331.51 95.39L331.91 93.00L332.31 90.75L332.71 88.62L333.11 86.61L333.51 84.71L333.91 82.93L334.31 81.24L334.71 79.64L335.11 78.14L335.51 76.72L335.91 75.38L336.31 74.12L336.71 72.93L337.11 71.80L337.50 70.74L337.90 69.73L338.30 68.79L338.70 67.90L339.10 67.05L339.50 66.26L340.30 64.80L341.10 63.50L341.90 62.34L342.70 61.31L343.50 60.39L344.30 59.58L345.09 58.85L345.89 58.20L346.69 57.62L347.49 57.11L348.29 56.65L349.09 56.24L349.89 55.88L350.69 55.55L351.49 55.26L352.28 55.01L353.08 54.78L353.88 54.58L354.68 54.39L355.48 54.23L356.28 54.09L357.08 53.96L357.88 53.85L358.68 53.74L359.47 53.65L360.27 53.57L360.81 53.52L360.91 54.24L361.02 54.93L361.13 55.61L361.23 56.26L361.34 56.90L361.45 57.51L361.55 58.11L361.66 58.69L361.76 59.26L361.87 59.80L361.98 60.34L362.08 60.85L362.19 61.36L362.30 61.85L362.40 62.32L362.51 62.78L362.62 63.23L362.72 63.67L362.83 64.09L362.94 64.50L363.04 64.90L363.15 65.29L363.26 65.67L363.36 66.04L363.47 66.40L363.87 67.67L364.27 68.82L364.67 69.87L365.07 70.82L365.47 71.70L365.87 72.50L366.27 73.24L366.66 73.92L367.06 74.55L367.46 75.14L367.86 75.69L368.26 76.20L368.66 76.68L369.06 77.14L369.46 77.57L369.86 77.98L370.26 78.37L370.66 78.74L371.06 79.09L371.46 79.44L372.52 80.29L373.59 81.07L374.65 81.80L375.72 82.49L376.78 83.14L377.85 83.76L378.91 84.36L379.98 84.93L381.04 85.49L382.11 86.03L383.18 86.55L384.24 87.05L385.31 87.54L386.37 88.02L387.44 88.49L388.50 88.94L389.57 89.38L390.63 89.81L391.70 90.22L392.76 90.63L395.43 91.59L398.09 92.50L400.75 93.34L403.41 94.13L406.08 94.87L408.74 95.56L411.40 96.21L414.07 96.81L416.73 97.38L419.39 97.91L422.06 98.40L424.72 98.86L427.38 99.30L430.04 99.70L432.71 100.08L435.37 100.43L438.03 100.76L440.70 101.07L443.36 101.36L446.02 101.63L448.69 101.88L451.35 102.12L454.01 102.34L456.67 102.55L459.34 102.74L462.00 102.93" fill="none" stroke="#000" stroke-width="1.7" stroke-linejoin="round"/>
<path d="M328.85 115.40L328.98 113.77L329.12 112.18L329.25 110.63L329.38 109.11L329.52 107.63L329.65 106.18L329.78 104.76L329.92 103.38L330.05 102.03L330.18 100.70L330.31 99.41L330.45 98.15L330.58 96.92L330.71 95.71L330.85 94.54L330.98 93.39L331.11 92.26L331.25 91.16L331.38 90.09L331.51 89.04L331.91 86.04L332.31 83.23L332.71 80.62L333.11 78.17L333.51 75.90L333.91 73.77L334.31 71.79L334.71 69.94L335.11 68.21L335.51 66.60L335.91 65.10L336.31 63.70L336.71 62.39L337.11 61.17L337.50 60.03L337.90 58.97L338.30 57.97L338.70 57.05L339.10 56.19L339.50 55.38L340.30 53.93L341.10 52.66L341.90 51.56L342.70 50.60L343.50 49.77L344.30 49.04L345.09 48.41L345.89 47.86L346.69 47.38L347.49 46.96L348.29 46.60L349.09 46.28L349.89 46.01L350.69 45.77L351.49 45.56L352.28 45.38L353.08 45.22L353.88 45.08L354.68 44.96L355.48 44.86L356.28 44.77L357.08 44.69L357.88 44.62L358.68 44.56L359.47 44.51L360.27 44.46L360.81 44.43L360.91 45.53L361.02 46.60L361.13 47.62L361.23 48.61L361.34 49.57L361.45 50.49L361.55 51.38L361.66 52.24L361.76 53.07L361.87 53.88L361.98 54.65L362.08 55.40L362.19 56.13L362.30 56.83L362.40 57.50L362.51 58.16L362.62 58.79L362.72 59.40L362.83 60.00L362.94 60.57L363.04 61.12L363.15 61.66L363.26 62.18L363.36 62.68L363.47 63.17L363.87 64.86L364.27 66.37L364.67 67.71L365.07 68.92L365.47 70.00L365.87 70.97L366.27 71.85L366.66 72.65L367.06 73.38L367.46 74.05L367.86 74.66L368.26 75.23L368.66 75.76L369.06 76.26L369.46 76.72L369.86 77.15L370.26 77.56L370.66 77.95L371.06 78.32L371.46 78.68L372.52 79.56L373.59 80.36L374.65 81.10L375.72 81.80L376.78 82.47L377.85 83.10L378.91 83.71L379.98 84.30L381.04 84.87L382.11 85.42L383.18 85.95L384.24 86.47L385.31 86.98L386.37 87.47L387.44 87.94L388.50 88.41L389.57 88.86L390.63 89.30L391.70 89.72L392.76 90.14L395.43 91.13L398.09 92.06L400.75 92.92L403.41 93.73L406.08 94.48L408.74 95.19L411.40 95.85L414.07 96.46L416.73 97.04L419.39 97.57L422.06 98.07L424.72 98.54L427.38 98.98L430.04 99.39L432.71 99.77L435.37 100.13L438.03 100.46L440.70 100.78L443.36 101.07L446.02 101.34L448.69 101.59L451.35 101.83L454.01 102.05L456.67 102.26L459.34 102.46L462.00 102.64" fill="none" stroke="#000" stroke-width="1.7" stroke-linejoin="round"/>
<path d="M41.95 204.00V318.35" stroke="#000" stroke-width="1.5" fill="none"/>
<path d="M41.20 315.45H209.80" stroke="#000" stroke-width="1.5" fill="none"/>
<path d="M38.75 204.60H41.95" stroke="#000" stroke-width="1.2"/>
<text transform="translate(35.90 207.20) scale(1.140 1)" class="tk" text-anchor="end">400</text>
<path d="M38.75 214.68H41.95" stroke="#000" stroke-width="1.2"/>
<text transform="translate(35.90 217.28) scale(1.140 1)" class="tk" text-anchor="end">360</text>
<path d="M38.75 224.75H41.95" stroke="#000" stroke-width="1.2"/>
<text transform="translate(35.90 227.35) scale(1.140 1)" class="tk" text-anchor="end">320</text>
<path d="M38.75 234.83H41.95" stroke="#000" stroke-width="1.2"/>
<text transform="translate(35.90 237.43) scale(1.140 1)" class="tk" text-anchor="end">280</text>
<path d="M38.75 244.91H41.95" stroke="#000" stroke-width="1.2"/>
<text transform="translate(35.90 247.51) scale(1.140 1)" class="tk" text-anchor="end">240</text>
<path d="M38.75 254.99H41.95" stroke="#000" stroke-width="1.2"/>
<text transform="translate(35.90 257.59) scale(1.140 1)" class="tk" text-anchor="end">200</text>
<path d="M38.75 265.06H41.95" stroke="#000" stroke-width="1.2"/>
<text transform="translate(35.90 267.66) scale(1.140 1)" class="tk" text-anchor="end">160</text>
<path d="M38.75 275.14H41.95" stroke="#000" stroke-width="1.2"/>
<text transform="translate(35.90 277.74) scale(1.140 1)" class="tk" text-anchor="end">120</text>
<path d="M38.75 285.22H41.95" stroke="#000" stroke-width="1.2"/>
<text transform="translate(35.90 287.82) scale(1.140 1)" class="tk" text-anchor="end">80</text>
<path d="M38.75 295.30H41.95" stroke="#000" stroke-width="1.2"/>
<text transform="translate(35.90 297.90) scale(1.140 1)" class="tk" text-anchor="end">40</text>
<path d="M38.75 305.37H41.95" stroke="#000" stroke-width="1.2"/>
<text transform="translate(35.90 307.97) scale(1.140 1)" class="tk" text-anchor="end">0</text>
<path d="M38.75 315.45H41.95" stroke="#000" stroke-width="1.2"/>
<text transform="translate(35.90 318.05) scale(1.140 1)" class="tk" text-anchor="end">−40</text>
<path d="M41.72 315.45V318.25" stroke="#000" stroke-width="1.2"/>
<text transform="translate(40.42 326.65) scale(1.140 1)" class="tk" text-anchor="middle">−100</text>
<path d="M68.35 315.45V318.25" stroke="#000" stroke-width="1.2"/>
<text transform="translate(68.55 326.65) scale(1.140 1)" class="tk" text-anchor="middle">0</text>
<path d="M94.98 315.45V318.25" stroke="#000" stroke-width="1.2"/>
<text transform="translate(95.18 326.65) scale(1.140 1)" class="tk" text-anchor="middle">100</text>
<path d="M121.61 315.45V318.25" stroke="#000" stroke-width="1.2"/>
<text transform="translate(121.81 326.65) scale(1.140 1)" class="tk" text-anchor="middle">200</text>
<path d="M148.24 315.45V318.25" stroke="#000" stroke-width="1.2"/>
<text transform="translate(148.44 326.65) scale(1.140 1)" class="tk" text-anchor="middle">300</text>
<path d="M174.87 315.45V318.25" stroke="#000" stroke-width="1.2"/>
<text transform="translate(175.07 326.65) scale(1.140 1)" class="tk" text-anchor="middle">400</text>
<path d="M201.50 315.45V318.25" stroke="#000" stroke-width="1.2"/>
<text transform="translate(201.70 326.65) scale(1.140 1)" class="tk" text-anchor="middle">500</text>
<text x="114.30" y="339.30" class="ttl" textLength="23.4" lengthAdjust="spacingAndGlyphs">Time (s)</text>
<text transform="translate(17.30 296.30) rotate(-90)" class="ttl" textLength="63.6" lengthAdjust="spacingAndGlyphs">Relative response (RU)</text>
<line x1="68.35" y1="305.40" x2="201.50" y2="305.40" stroke="#b4b4b4" stroke-width="0.9" stroke-dasharray="2.6 0.4"/>
<path d="M57.70 305.00H68.65" stroke="#000" stroke-width="1.7" fill="none"/>
<path d="M68.35 305.00L68.48 304.96L68.62 304.92L68.75 304.29L68.88 303.69L69.02 303.13L69.15 302.62L69.28 302.13L69.42 301.68L69.55 301.26L69.68 300.87L69.81 300.50L69.95 300.16L70.08 299.84L70.21 299.54L70.35 299.26L70.48 299.00L70.61 298.75L70.75 298.52L70.88 298.30L71.01 298.10L71.41 297.56L71.81 297.10L72.21 296.72L72.61 296.40L73.01 296.12L73.41 295.88L73.81 295.67L74.21 295.48L74.61 295.31L75.01 295.16L75.41 295.02L75.81 294.89L76.21 294.76L76.61 294.65L77.00 294.54L77.40 294.43L77.80 294.33L78.20 294.23L78.60 294.14L79.00 294.05L79.80 293.87L80.60 293.69L81.40 293.53L82.20 293.36L83.00 293.20L83.80 293.05L84.59 292.90L85.39 292.75L86.19 292.60L86.99 292.46L87.79 292.32L88.59 292.18L89.39 292.05L90.19 291.92L90.99 291.79L91.78 291.66L92.58 291.54L93.38 291.42L94.18 291.30L94.98 291.19L95.78 291.07L96.58 290.96L97.38 290.85L98.18 290.74L98.97 290.64L99.77 290.54L100.31 290.47L100.41 290.87L100.52 291.24L100.63 291.60L100.73 291.93L100.84 292.26L100.95 292.56L101.05 292.85L101.16 293.13L101.26 293.39L101.37 293.64L101.48 293.88L101.58 294.10L101.69 294.32L101.80 294.52L101.90 294.71L102.01 294.90L102.12 295.07L102.22 295.24L102.33 295.39L102.44 295.54L102.54 295.69L102.65 295.82L102.76 295.95L102.86 296.08L102.97 296.19L103.37 296.58L103.77 296.91L104.17 297.18L104.57 297.40L104.97 297.59L105.37 297.75L105.77 297.89L106.16 298.00L106.56 298.10L106.96 298.18L107.36 298.25L107.76 298.31L108.16 298.37L108.56 298.42L108.96 298.46L109.36 298.50L109.76 298.53L110.16 298.56L110.56 298.59L110.96 298.62L112.02 298.69L113.09 298.74L114.15 298.80L115.22 298.85L116.28 298.90L117.35 298.95L118.41 298.99L119.48 299.04L120.54 299.09L121.61 299.13L122.68 299.18L123.74 299.22L124.81 299.26L125.87 299.31L126.94 299.35L128.00 299.40L129.07 299.44L130.13 299.48L131.20 299.52L132.26 299.57L134.93 299.67L137.59 299.77L140.25 299.87L142.91 299.97L145.58 300.06L148.24 300.16L150.90 300.25L153.57 300.34L156.23 300.43L158.89 300.51L161.56 300.60L164.22 300.68L166.88 300.77L169.54 300.85L172.21 300.93L174.87 301.00L177.53 301.08L180.20 301.15L182.86 301.23L185.52 301.30L188.19 301.37L190.85 301.44L193.51 301.51L196.17 301.57L198.84 301.64L201.50 301.70" fill="none" stroke="#000" stroke-width="1.7" stroke-linejoin="round"/>
<path d="M68.35 305.00L68.48 304.96L68.62 304.92L68.75 304.88L68.88 304.85L69.02 304.56L69.15 303.98L69.28 303.43L69.42 302.92L69.55 302.44L69.68 301.98L69.81 301.55L69.95 301.14L70.08 300.76L70.21 300.39L70.35 300.05L70.48 299.73L70.61 299.42L70.75 299.13L70.88 298.86L71.01 298.60L71.41 297.91L71.81 297.31L72.21 296.81L72.61 296.37L73.01 295.99L73.41 295.66L73.81 295.37L74.21 295.12L74.61 294.89L75.01 294.69L75.41 294.50L75.81 294.33L76.21 294.18L76.61 294.03L77.00 293.90L77.40 293.77L77.80 293.65L78.20 293.54L78.60 293.43L79.00 293.33L79.80 293.13L80.60 292.94L81.40 292.76L82.20 292.59L83.00 292.42L83.80 292.26L84.59 292.10L85.39 291.95L86.19 291.80L86.99 291.65L87.79 291.51L88.59 291.37L89.39 291.23L90.19 291.10L90.99 290.97L91.78 290.84L92.58 290.71L93.38 290.59L94.18 290.47L94.98 290.35L95.78 290.23L96.58 290.12L97.38 290.01L98.18 289.90L98.97 289.79L99.77 289.69L100.31 289.62L100.41 290.05L100.52 290.44L100.63 290.78L100.73 291.10L100.84 291.38L100.95 291.64L101.05 291.87L101.16 292.08L101.26 292.27L101.37 292.44L101.48 292.59L101.58 292.74L101.69 292.86L101.80 292.98L101.90 293.09L102.01 293.19L102.12 293.28L102.22 293.36L102.33 293.43L102.44 293.50L102.54 293.57L102.65 293.63L102.76 293.68L102.86 293.73L102.97 293.78L103.37 293.94L103.77 294.07L104.17 294.17L104.57 294.27L104.97 294.35L105.37 294.43L105.77 294.50L106.16 294.57L106.56 294.64L106.96 294.71L107.36 294.77L107.76 294.83L108.16 294.90L108.56 294.96L108.96 295.02L109.36 295.07L109.76 295.13L110.16 295.19L110.56 295.25L110.96 295.30L112.02 295.44L113.09 295.58L114.15 295.71L115.22 295.84L116.28 295.96L117.35 296.08L118.41 296.20L119.48 296.30L120.54 296.41L121.61 296.51L122.68 296.61L123.74 296.70L124.81 296.79L125.87 296.88L126.94 296.96L128.00 297.04L129.07 297.12L130.13 297.19L131.20 297.26L132.26 297.33L134.93 297.49L137.59 297.63L140.25 297.76L142.91 297.88L145.58 297.99L148.24 298.09L150.90 298.18L153.57 298.26L156.23 298.33L158.89 298.40L161.56 298.46L164.22 298.51L166.88 298.56L169.54 298.61L172.21 298.65L174.87 298.68L177.53 298.72L180.20 298.75L182.86 298.78L185.52 298.80L188.19 298.83L190.85 298.85L193.51 298.86L196.17 298.88L198.84 298.90L201.50 298.91" fill="none" stroke="#1238cc" stroke-width="2.5" stroke-linejoin="round"/>
<path d="M68.35 305.00L68.48 303.56L68.62 302.31L68.75 301.22L68.88 300.28L69.02 299.45L69.15 298.73L69.28 298.10L69.42 297.56L69.55 297.08L69.68 296.65L69.81 296.28L69.95 295.96L70.08 295.67L70.21 295.41L70.35 295.19L70.48 294.98L70.61 294.80L70.75 294.64L70.88 294.49L71.01 294.36L71.41 294.03L71.81 293.77L72.21 293.55L72.61 293.37L73.01 293.20L73.41 293.05L73.81 292.91L74.21 292.77L74.61 292.64L75.01 292.51L75.41 292.39L75.81 292.26L76.21 292.14L76.61 292.02L77.00 291.90L77.40 291.79L77.80 291.67L78.20 291.56L78.60 291.44L79.00 291.33L79.80 291.11L80.60 290.89L81.40 290.68L82.20 290.47L83.00 290.27L83.80 290.07L84.59 289.87L85.39 289.68L86.19 289.49L86.99 289.31L87.79 289.12L88.59 288.95L89.39 288.77L90.19 288.60L90.99 288.44L91.78 288.28L92.58 288.12L93.38 287.96L94.18 287.81L94.98 287.66L95.78 287.51L96.58 287.37L97.38 287.23L98.18 287.09L98.97 286.95L99.77 286.82L100.31 286.73L100.41 287.26L100.52 287.75L100.63 288.21L100.73 288.63L100.84 289.01L100.95 289.37L101.05 289.70L101.16 290.01L101.26 290.30L101.37 290.56L101.48 290.81L101.58 291.04L101.69 291.25L101.80 291.45L101.90 291.63L102.01 291.80L102.12 291.96L102.22 292.11L102.33 292.25L102.44 292.38L102.54 292.50L102.65 292.61L102.76 292.72L102.86 292.82L102.97 292.91L103.37 293.22L103.77 293.47L104.17 293.67L104.57 293.84L104.97 293.99L105.37 294.12L105.77 294.24L106.16 294.35L106.56 294.45L106.96 294.54L107.36 294.63L107.76 294.71L108.16 294.79L108.56 294.87L108.96 294.94L109.36 295.02L109.76 295.09L110.16 295.16L110.56 295.22L110.96 295.29L112.02 295.46L113.09 295.61L114.15 295.76L115.22 295.91L116.28 296.04L117.35 296.17L118.41 296.29L119.48 296.40L120.54 296.51L121.61 296.61L122.68 296.71L123.74 296.80L124.81 296.88L125.87 296.97L126.94 297.04L128.00 297.12L129.07 297.19L130.13 297.25L131.20 297.31L132.26 297.37L134.93 297.51L137.59 297.62L140.25 297.72L142.91 297.81L145.58 297.89L148.24 297.96L150.90 298.01L153.57 298.07L156.23 298.11L158.89 298.15L161.56 298.18L164.22 298.21L166.88 298.24L169.54 298.26L172.21 298.28L174.87 298.30L177.53 298.32L180.20 298.33L182.86 298.34L185.52 298.35L188.19 298.36L190.85 298.37L193.51 298.38L196.17 298.38L198.84 298.39L201.50 298.39" fill="none" stroke="#2c0ca0" stroke-width="1.5" stroke-linejoin="round"/>
<path d="M68.35 305.00L68.48 303.24L68.62 301.38L68.75 299.68L68.88 298.11L69.02 296.66L69.15 295.34L69.28 294.12L69.42 293.00L69.55 291.97L69.68 291.02L69.81 290.05L69.95 289.14L70.08 288.30L70.21 287.52L70.35 286.80L70.48 286.13L70.61 285.50L70.75 284.92L70.88 284.38L71.01 283.87L71.41 282.55L71.81 281.39L72.21 280.37L72.61 279.49L73.01 278.74L73.41 278.07L73.81 277.48L74.21 276.94L74.61 276.45L75.01 275.99L75.41 275.62L75.81 275.28L76.21 274.95L76.61 274.64L77.00 274.34L77.40 274.05L77.80 273.77L78.20 273.49L78.60 273.22L79.00 272.96L79.80 272.44L80.60 271.94L81.40 271.45L82.20 270.97L83.00 270.51L83.80 270.05L84.59 269.60L85.39 269.18L86.19 268.77L86.99 268.36L87.79 267.96L88.59 267.57L89.39 267.19L90.19 266.81L90.99 266.44L91.78 266.08L92.58 265.72L93.38 265.38L94.18 265.03L94.98 264.70L95.78 264.37L96.58 264.04L97.38 263.73L98.18 263.41L98.97 263.11L99.77 262.81L100.31 262.61L100.41 263.34L100.52 264.05L100.63 264.74L100.73 265.41L100.84 266.05L100.95 266.68L101.05 267.29L101.16 267.89L101.26 268.46L101.37 269.02L101.48 269.57L101.58 270.09L101.69 270.59L101.80 271.07L101.90 271.54L102.01 271.98L102.12 272.42L102.22 272.84L102.33 273.25L102.44 273.65L102.54 274.04L102.65 274.41L102.76 274.78L102.86 275.13L102.97 275.47L103.37 276.67L103.77 277.74L104.17 278.70L104.57 279.56L104.97 280.33L105.37 281.02L105.77 281.64L106.16 282.19L106.56 282.69L106.96 283.14L107.36 283.55L107.76 283.92L108.16 284.25L108.56 284.55L108.96 284.83L109.36 285.08L109.76 285.30L110.16 285.51L110.56 285.70L110.96 285.88L112.02 286.28L113.09 286.61L114.15 286.88L115.22 287.12L116.28 287.32L117.35 287.51L118.41 287.67L119.48 287.83L120.54 287.97L121.61 288.11L122.68 288.24L123.74 288.37L124.81 288.49L125.87 288.61L126.94 288.73L128.00 288.84L129.07 288.96L130.13 289.07L131.20 289.18L132.26 289.29L134.93 289.56L137.59 289.82L140.25 290.07L142.91 290.32L145.58 290.57L148.24 290.81L150.90 291.05L153.57 291.28L156.23 291.51L158.89 291.73L161.56 291.95L164.22 292.17L166.88 292.38L169.54 292.59L172.21 292.80L174.87 293.00L177.53 293.20L180.20 293.40L182.86 293.59L185.52 293.78L188.19 293.97L190.85 294.15L193.51 294.33L196.17 294.51L198.84 294.69L201.50 294.86" fill="none" stroke="#33e000" stroke-width="1.5" stroke-linejoin="round"/>
<path d="M68.35 305.00L68.48 300.89L68.62 297.13L68.75 293.68L68.88 290.51L69.02 287.60L69.15 284.92L69.28 282.46L69.42 280.20L69.55 278.11L69.68 276.19L69.81 274.41L69.95 272.77L70.08 271.25L70.21 269.85L70.35 268.54L70.48 267.33L70.61 266.21L70.75 265.16L70.88 264.18L71.01 263.27L71.41 260.87L71.81 258.88L72.21 257.21L72.61 255.77L73.01 254.51L73.41 253.41L73.81 252.41L74.21 251.50L74.61 250.67L75.01 249.89L75.41 249.16L75.81 248.46L76.21 247.80L76.61 247.17L77.00 246.56L77.40 245.97L77.80 245.41L78.20 244.86L78.60 244.33L79.00 243.81L79.80 242.82L80.60 241.88L81.40 240.99L82.20 240.14L83.00 239.33L83.80 238.57L84.59 237.84L85.39 237.15L86.19 236.49L86.99 235.86L87.79 235.27L88.59 234.70L89.39 234.16L90.19 233.65L90.99 233.16L91.78 232.69L92.58 232.25L93.38 231.83L94.18 231.43L94.98 231.05L95.78 230.69L96.58 230.34L97.38 230.02L98.18 229.71L98.97 229.41L99.77 229.13L100.31 228.95L100.41 234.44L100.52 238.35L100.63 241.17L100.73 243.24L100.84 244.80L100.95 246.00L101.05 246.95L101.16 247.74L101.26 248.40L101.37 248.98L101.48 249.51L101.58 249.99L101.69 250.41L101.80 250.78L101.90 251.14L102.01 251.48L102.12 251.81L102.22 252.14L102.33 252.45L102.44 252.77L102.54 253.07L102.65 253.38L102.76 253.67L102.86 253.97L102.97 254.26L103.37 255.32L103.77 256.32L104.17 257.29L104.57 258.21L104.97 259.09L105.37 259.93L105.77 260.73L106.16 261.50L106.56 262.23L106.96 262.94L107.36 263.61L107.76 264.25L108.16 264.87L108.56 265.46L108.96 266.02L109.36 266.56L109.76 267.08L110.16 267.58L110.56 268.06L110.96 268.51L112.02 269.64L113.09 270.66L114.15 271.57L115.22 272.40L116.28 273.14L117.35 273.82L118.41 274.43L119.48 275.00L120.54 275.51L121.61 275.99L122.68 276.43L123.74 276.84L124.81 277.22L125.87 277.57L126.94 277.90L128.00 278.22L129.07 278.52L130.13 278.80L131.20 279.07L132.26 279.32L134.93 279.92L137.59 280.47L140.25 280.98L142.91 281.46L145.58 281.92L148.24 282.36L150.90 282.78L153.57 283.20L156.23 283.60L158.89 283.99L161.56 284.37L164.22 284.75L166.88 285.11L169.54 285.47L172.21 285.83L174.87 286.17L177.53 286.51L180.20 286.85L182.86 287.18L185.52 287.50L188.19 287.82L190.85 288.13L193.51 288.43L196.17 288.73L198.84 289.03L201.50 289.32" fill="none" stroke="#d0001c" stroke-width="1.5" stroke-linejoin="round"/>
<path d="M68.35 305.00L68.48 303.56L68.62 302.30L68.75 301.21L68.88 300.26L69.02 299.44L69.15 298.71L69.28 298.08L69.42 297.53L69.55 297.05L69.68 296.62L69.81 296.25L69.95 295.92L70.08 295.63L70.21 295.37L70.35 295.14L70.48 294.93L70.61 294.75L70.75 294.58L70.88 294.43L71.01 294.30L71.41 293.96L71.81 293.69L72.21 293.46L72.61 293.27L73.01 293.09L73.41 292.93L73.81 292.78L74.21 292.63L74.61 292.49L75.01 292.36L75.41 292.22L75.81 292.09L76.21 291.96L76.61 291.83L77.00 291.70L77.40 291.57L77.80 291.45L78.20 291.32L78.60 291.20L79.00 291.08L79.80 290.84L80.60 290.60L81.40 290.37L82.20 290.14L83.00 289.92L83.80 289.70L84.59 289.48L85.39 289.27L86.19 289.07L86.99 288.86L87.79 288.66L88.59 288.47L89.39 288.28L90.19 288.09L90.99 287.90L91.78 287.72L92.58 287.54L93.38 287.37L94.18 287.19L94.98 287.03L95.78 286.86L96.58 286.70L97.38 286.54L98.18 286.38L98.97 286.23L99.77 286.08L100.31 285.98L100.41 286.51L100.52 287.00L100.63 287.45L100.73 287.87L100.84 288.26L100.95 288.61L101.05 288.95L101.16 289.25L101.26 289.54L101.37 289.80L101.48 290.05L101.58 290.28L101.69 290.49L101.80 290.69L101.90 290.87L102.01 291.04L102.12 291.20L102.22 291.35L102.33 291.49L102.44 291.62L102.54 291.74L102.65 291.85L102.76 291.96L102.86 292.06L102.97 292.15L103.37 292.46L103.77 292.71L104.17 292.91L104.57 293.09L104.97 293.24L105.37 293.37L105.77 293.48L106.16 293.59L106.56 293.69L106.96 293.78L107.36 293.87L107.76 293.95L108.16 294.03L108.56 294.11L108.96 294.19L109.36 294.26L109.76 294.33L110.16 294.40L110.56 294.47L110.96 294.53L112.02 294.70L113.09 294.86L114.15 295.01L115.22 295.15L116.28 295.28L117.35 295.41L118.41 295.53L119.48 295.64L120.54 295.75L121.61 295.85L122.68 295.95L123.74 296.04L124.81 296.13L125.87 296.21L126.94 296.29L128.00 296.36L129.07 296.43L130.13 296.49L131.20 296.56L132.26 296.61L134.93 296.75L137.59 296.86L140.25 296.97L142.91 297.05L145.58 297.13L148.24 297.20L150.90 297.26L153.57 297.31L156.23 297.35L158.89 297.39L161.56 297.43L164.22 297.46L166.88 297.48L169.54 297.51L172.21 297.53L174.87 297.54L177.53 297.56L180.20 297.57L182.86 297.58L185.52 297.59L188.19 297.60L190.85 297.61L193.51 297.62L196.17 297.62L198.84 297.63L201.50 297.63" fill="none" stroke="#000" stroke-width="1.7" stroke-linejoin="round"/>
<path d="M68.35 305.00L68.48 303.11L68.62 301.13L68.75 299.30L68.88 297.60L69.02 296.03L69.15 294.58L69.28 293.24L69.42 291.99L69.55 290.83L69.68 289.76L69.81 288.77L69.95 287.84L70.08 286.99L70.21 286.19L70.35 285.45L70.48 284.76L70.61 284.11L70.75 283.51L70.88 282.95L71.01 282.43L71.41 281.05L71.81 279.92L72.21 278.97L72.61 278.17L73.01 277.49L73.41 276.90L73.81 276.38L74.21 275.91L74.61 275.49L75.01 275.11L75.41 274.75L75.81 274.42L76.21 274.10L76.61 273.80L77.00 273.51L77.40 273.23L77.80 272.96L78.20 272.70L78.60 272.44L79.00 272.18L79.80 271.69L80.60 271.21L81.40 270.74L82.20 270.29L83.00 269.84L83.80 269.40L84.59 268.97L85.39 268.55L86.19 268.13L86.99 267.73L87.79 267.33L88.59 266.94L89.39 266.56L90.19 266.18L90.99 265.81L91.78 265.45L92.58 265.09L93.38 264.74L94.18 264.40L94.98 264.07L95.78 263.74L96.58 263.41L97.38 263.10L98.18 262.78L98.97 262.48L99.77 262.18L100.31 261.98L100.41 262.69L100.52 263.38L100.63 264.05L100.73 264.69L100.84 265.32L100.95 265.93L101.05 266.52L101.16 267.09L101.26 267.65L101.37 268.19L101.48 268.71L101.58 269.22L101.69 269.71L101.80 270.19L101.90 270.65L102.01 271.10L102.12 271.54L102.22 271.96L102.33 272.37L102.44 272.77L102.54 273.15L102.65 273.53L102.76 273.89L102.86 274.25L102.97 274.59L103.37 275.79L103.77 276.86L104.17 277.82L104.57 278.67L104.97 279.44L105.37 280.13L105.77 280.75L106.16 281.31L106.56 281.81L106.96 282.26L107.36 282.67L107.76 283.04L108.16 283.37L108.56 283.67L108.96 283.94L109.36 284.19L109.76 284.42L110.16 284.63L110.56 284.82L110.96 284.99L112.02 285.39L113.09 285.72L114.15 286.00L115.22 286.23L116.28 286.44L117.35 286.62L118.41 286.79L119.48 286.94L120.54 287.09L121.61 287.22L122.68 287.36L123.74 287.48L124.81 287.61L125.87 287.73L126.94 287.84L128.00 287.96L129.07 288.07L130.13 288.18L131.20 288.29L132.26 288.40L134.93 288.67L137.59 288.93L140.25 289.19L142.91 289.44L145.58 289.68L148.24 289.92L150.90 290.16L153.57 290.39L156.23 290.62L158.89 290.85L161.56 291.07L164.22 291.28L166.88 291.50L169.54 291.71L172.21 291.91L174.87 292.12L177.53 292.32L180.20 292.51L182.86 292.71L185.52 292.90L188.19 293.08L190.85 293.27L193.51 293.45L196.17 293.63L198.84 293.80L201.50 293.98" fill="none" stroke="#000" stroke-width="1.7" stroke-linejoin="round"/>
<path d="M68.35 305.00L68.48 300.89L68.62 297.13L68.75 293.68L68.88 290.51L69.02 287.60L69.15 284.92L69.28 282.46L69.42 280.20L69.55 278.11L69.68 276.19L69.81 274.41L69.95 272.77L70.08 271.25L70.21 269.85L70.35 268.54L70.48 267.33L70.61 266.21L70.75 265.16L70.88 264.18L71.01 263.27L71.41 260.87L71.81 258.88L72.21 257.21L72.61 255.77L73.01 254.51L73.41 253.41L73.81 252.41L74.21 251.50L74.61 250.67L75.01 249.89L75.41 249.16L75.81 248.46L76.21 247.80L76.61 247.17L77.00 246.56L77.40 245.97L77.80 245.41L78.20 244.86L78.60 244.33L79.00 243.81L79.80 242.82L80.60 241.88L81.40 240.99L82.20 240.14L83.00 239.33L83.80 238.57L84.59 237.84L85.39 237.15L86.19 236.49L86.99 235.86L87.79 235.27L88.59 234.70L89.39 234.16L90.19 233.65L90.99 233.16L91.78 232.69L92.58 232.25L93.38 231.83L94.18 231.43L94.98 231.05L95.78 230.69L96.58 230.34L97.38 230.02L98.18 229.71L98.97 229.41L99.77 229.13L100.31 228.95L100.41 234.38L100.52 238.22L100.63 240.99L100.73 243.00L100.84 244.50L100.95 245.64L101.05 246.53L101.16 247.25L101.26 247.86L101.37 248.38L101.48 248.84L101.58 249.26L101.69 249.66L101.80 250.03L101.90 250.38L102.01 250.72L102.12 251.05L102.22 251.38L102.33 251.70L102.44 252.01L102.54 252.32L102.65 252.62L102.76 252.92L102.86 253.21L102.97 253.50L103.37 254.56L103.77 255.57L104.17 256.53L104.57 257.45L104.97 258.33L105.37 259.17L105.77 259.97L106.16 260.74L106.56 261.48L106.96 262.18L107.36 262.85L107.76 263.49L108.16 264.11L108.56 264.70L108.96 265.26L109.36 265.81L109.76 266.32L110.16 266.82L110.56 267.30L110.96 267.76L112.02 268.89L113.09 269.90L114.15 270.81L115.22 271.64L116.28 272.38L117.35 273.06L118.41 273.68L119.48 274.24L120.54 274.76L121.61 275.23L122.68 275.67L123.74 276.08L124.81 276.46L125.87 276.81L126.94 277.15L128.00 277.46L129.07 277.76L130.13 278.04L131.20 278.31L132.26 278.56L134.93 279.16L137.59 279.71L140.25 280.22L142.91 280.70L145.58 281.16L148.24 281.60L150.90 282.03L153.57 282.44L156.23 282.84L158.89 283.23L161.56 283.61L164.22 283.99L166.88 284.36L169.54 284.72L172.21 285.07L174.87 285.42L177.53 285.76L180.20 286.09L182.86 286.42L185.52 286.74L188.19 287.06L190.85 287.37L193.51 287.68L196.17 287.98L198.84 288.27L201.50 288.56" fill="none" stroke="#000" stroke-width="1.7" stroke-linejoin="round"/>
<path d="M302.45 204.00V318.35" stroke="#000" stroke-width="1.5" fill="none"/>
<path d="M301.70 315.45H470.30" stroke="#000" stroke-width="1.5" fill="none"/>
<path d="M299.25 204.60H302.45" stroke="#000" stroke-width="1.2"/>
<text transform="translate(296.40 207.20) scale(1.140 1)" class="tk" text-anchor="end">400</text>
<path d="M299.25 214.68H302.45" stroke="#000" stroke-width="1.2"/>
<text transform="translate(296.40 217.28) scale(1.140 1)" class="tk" text-anchor="end">360</text>
<path d="M299.25 224.75H302.45" stroke="#000" stroke-width="1.2"/>
<text transform="translate(296.40 227.35) scale(1.140 1)" class="tk" text-anchor="end">320</text>
<path d="M299.25 234.83H302.45" stroke="#000" stroke-width="1.2"/>
<text transform="translate(296.40 237.43) scale(1.140 1)" class="tk" text-anchor="end">280</text>
<path d="M299.25 244.91H302.45" stroke="#000" stroke-width="1.2"/>
<text transform="translate(296.40 247.51) scale(1.140 1)" class="tk" text-anchor="end">240</text>
<path d="M299.25 254.99H302.45" stroke="#000" stroke-width="1.2"/>
<text transform="translate(296.40 257.59) scale(1.140 1)" class="tk" text-anchor="end">200</text>
<path d="M299.25 265.06H302.45" stroke="#000" stroke-width="1.2"/>
<text transform="translate(296.40 267.66) scale(1.140 1)" class="tk" text-anchor="end">160</text>
<path d="M299.25 275.14H302.45" stroke="#000" stroke-width="1.2"/>
<text transform="translate(296.40 277.74) scale(1.140 1)" class="tk" text-anchor="end">120</text>
<path d="M299.25 285.22H302.45" stroke="#000" stroke-width="1.2"/>
<text transform="translate(296.40 287.82) scale(1.140 1)" class="tk" text-anchor="end">80</text>
<path d="M299.25 295.30H302.45" stroke="#000" stroke-width="1.2"/>
<text transform="translate(296.40 297.90) scale(1.140 1)" class="tk" text-anchor="end">40</text>
<path d="M299.25 305.37H302.45" stroke="#000" stroke-width="1.2"/>
<text transform="translate(296.40 307.97) scale(1.140 1)" class="tk" text-anchor="end">0</text>
<path d="M299.25 315.45H302.45" stroke="#000" stroke-width="1.2"/>
<text transform="translate(296.40 318.05) scale(1.140 1)" class="tk" text-anchor="end">−40</text>
<path d="M302.22 315.45V318.25" stroke="#000" stroke-width="1.2"/>
<text transform="translate(300.92 326.65) scale(1.140 1)" class="tk" text-anchor="middle">−100</text>
<path d="M328.85 315.45V318.25" stroke="#000" stroke-width="1.2"/>
<text transform="translate(329.05 326.65) scale(1.140 1)" class="tk" text-anchor="middle">0</text>
<path d="M355.48 315.45V318.25" stroke="#000" stroke-width="1.2"/>
<text transform="translate(355.68 326.65) scale(1.140 1)" class="tk" text-anchor="middle">100</text>
<path d="M382.11 315.45V318.25" stroke="#000" stroke-width="1.2"/>
<text transform="translate(382.31 326.65) scale(1.140 1)" class="tk" text-anchor="middle">200</text>
<path d="M408.74 315.45V318.25" stroke="#000" stroke-width="1.2"/>
<text transform="translate(408.94 326.65) scale(1.140 1)" class="tk" text-anchor="middle">300</text>
<path d="M435.37 315.45V318.25" stroke="#000" stroke-width="1.2"/>
<text transform="translate(435.57 326.65) scale(1.140 1)" class="tk" text-anchor="middle">400</text>
<path d="M462.00 315.45V318.25" stroke="#000" stroke-width="1.2"/>
<text transform="translate(462.20 326.65) scale(1.140 1)" class="tk" text-anchor="middle">500</text>
<text x="374.80" y="339.30" class="ttl" textLength="23.4" lengthAdjust="spacingAndGlyphs">Time (s)</text>
<text transform="translate(277.80 296.30) rotate(-90)" class="ttl" textLength="63.6" lengthAdjust="spacingAndGlyphs">Relative response (RU)</text>
<line x1="328.85" y1="305.40" x2="462.00" y2="305.40" stroke="#b4b4b4" stroke-width="0.9" stroke-dasharray="2.6 0.4"/>
<path d="M318.20 305.00H329.15" stroke="#000" stroke-width="1.7" fill="none"/>
<path d="M328.85 305.00L328.98 304.67L329.12 304.35L329.25 304.03L329.38 303.71L329.52 303.40L329.65 303.09L329.78 302.78L329.92 302.48L330.05 302.17L330.18 301.87L330.31 301.58L330.45 301.29L330.58 301.00L330.71 300.71L330.85 300.43L330.98 300.14L331.11 299.87L331.25 299.59L331.38 299.32L331.51 299.05L331.91 298.03L332.31 297.03L332.71 296.06L333.11 295.11L333.51 294.18L333.91 293.28L334.31 292.39L334.71 291.53L335.11 290.69L335.51 289.87L335.91 289.06L336.31 288.28L336.71 287.51L337.11 286.77L337.50 286.04L337.90 285.33L338.30 284.63L338.70 283.95L339.10 283.29L339.50 282.64L340.30 281.40L341.10 280.21L341.90 279.07L342.70 277.99L343.50 276.96L344.30 275.98L345.09 275.04L345.89 274.15L346.69 273.30L347.49 272.49L348.29 271.72L349.09 270.98L349.89 270.28L350.69 269.61L351.49 268.98L352.28 268.37L353.08 267.79L353.88 267.24L354.68 266.71L355.48 266.21L356.28 265.73L357.08 265.28L357.88 264.84L358.68 264.43L359.47 264.04L360.27 263.66L360.81 263.42L360.91 264.05L361.02 264.62L361.13 265.13L361.23 265.59L361.34 266.00L361.45 266.38L361.55 266.73L361.66 267.05L361.76 267.34L361.87 267.61L361.98 267.86L362.08 268.09L362.19 268.31L362.30 268.52L362.40 268.71L362.51 268.90L362.62 269.07L362.72 269.24L362.83 269.40L362.94 269.56L363.04 269.70L363.15 269.85L363.26 269.99L363.36 270.12L363.47 270.25L363.87 270.71L364.27 271.14L364.67 271.55L365.07 271.93L365.47 272.30L365.87 272.65L366.27 272.99L366.66 273.32L367.06 273.64L367.46 273.95L367.86 274.24L368.26 274.53L368.66 274.81L369.06 275.08L369.46 275.34L369.86 275.60L370.26 275.85L370.66 276.09L371.06 276.33L371.46 276.56L372.52 277.14L373.59 277.68L374.65 278.19L375.72 278.68L376.78 279.13L377.85 279.56L378.91 279.97L379.98 280.34L381.04 280.68L382.11 280.99L383.18 281.29L384.24 281.58L385.31 281.86L386.37 282.12L387.44 282.37L388.50 282.62L389.57 282.85L390.63 283.07L391.70 283.29L392.76 283.50L395.43 283.98L398.09 284.26L400.75 284.50L403.41 284.71L406.08 284.90L408.74 285.05L411.40 285.18L414.07 285.60L416.73 286.00L419.39 286.39L422.06 286.75L424.72 287.10L427.38 287.44L430.04 287.76L432.71 288.08L435.37 288.38L438.03 288.66L440.70 288.94L443.36 289.21L446.02 289.47L448.69 289.73L451.35 289.97L454.01 290.21L456.67 290.44L459.34 290.66L462.00 290.88" fill="none" stroke="#1238cc" stroke-width="2.4" stroke-linejoin="round"/>
<path d="M328.85 305.00L328.98 304.47L329.12 303.95L329.25 303.43L329.38 302.92L329.52 302.41L329.65 301.91L329.78 301.41L329.92 300.91L330.05 300.42L330.18 299.93L330.31 299.45L330.45 298.98L330.58 298.50L330.71 298.03L330.85 297.57L330.98 297.11L331.11 296.65L331.25 296.20L331.38 295.75L331.51 295.31L331.91 294.00L332.31 292.73L332.71 291.49L333.11 290.29L333.51 289.11L333.91 287.97L334.31 286.86L334.71 285.78L335.11 284.73L335.51 283.71L335.91 282.71L336.31 281.74L336.71 280.80L337.11 279.89L337.50 278.99L337.90 278.13L338.30 277.28L338.70 276.46L339.10 275.66L339.50 274.88L340.30 273.39L341.10 271.98L341.90 270.64L342.70 269.37L343.50 268.17L344.30 267.04L345.09 265.97L345.89 264.95L346.69 263.99L347.49 263.08L348.29 262.22L349.09 261.41L349.89 260.64L350.69 259.91L351.49 259.23L352.28 258.58L353.08 257.96L353.88 257.38L354.68 256.83L355.48 256.31L356.28 255.82L357.08 255.36L357.88 254.92L358.68 254.51L359.47 254.12L360.27 253.75L360.81 253.52L360.91 254.42L361.02 255.21L361.13 255.91L361.23 256.53L361.34 257.09L361.45 257.59L361.55 258.03L361.66 258.44L361.76 258.81L361.87 259.14L361.98 259.45L362.08 259.74L362.19 260.00L362.30 260.25L362.40 260.48L362.51 260.70L362.62 260.91L362.72 261.11L362.83 261.30L362.94 261.48L363.04 261.65L363.15 261.82L363.26 261.98L363.36 262.14L363.47 262.29L363.87 262.83L364.27 263.33L364.67 263.80L365.07 264.24L365.47 264.66L365.87 265.06L366.27 265.45L366.66 265.82L367.06 266.17L367.46 266.52L367.86 266.85L368.26 267.17L368.66 267.47L369.06 267.77L369.46 268.06L369.86 268.34L370.26 268.61L370.66 268.88L371.06 269.14L371.46 269.39L372.52 270.02L373.59 270.62L374.65 271.19L375.72 271.72L376.78 272.23L377.85 272.71L378.91 273.18L379.98 273.62L381.04 274.05L382.11 274.47L383.18 274.87L384.24 275.25L385.31 275.63L386.37 275.99L387.44 276.34L388.50 276.68L389.57 277.02L390.63 277.34L391.70 277.66L392.76 277.96L395.43 278.69L398.09 279.38L400.75 280.03L403.41 280.64L406.08 281.22L408.74 281.77L411.40 282.29L414.07 282.79L416.73 283.27L419.39 283.72L422.06 284.15L424.72 284.57L427.38 284.97L430.04 285.35L432.71 285.72L435.37 286.08L438.03 286.42L440.70 286.76L443.36 287.08L446.02 287.39L448.69 287.69L451.35 287.99L454.01 288.28L456.67 288.56L459.34 288.83L462.00 289.10" fill="none" stroke="#2c0ca0" stroke-width="1.5" stroke-linejoin="round"/>
<path d="M328.85 305.00L328.98 303.76L329.12 302.54L329.25 301.35L329.38 300.17L329.52 299.01L329.65 297.87L329.78 296.75L329.92 295.64L330.05 294.56L330.18 293.49L330.31 292.44L330.45 291.41L330.58 290.39L330.71 289.39L330.85 288.41L330.98 287.44L331.11 286.49L331.25 285.56L331.38 284.64L331.51 283.73L331.91 281.11L332.31 278.61L332.71 276.23L333.11 273.97L333.51 271.81L333.91 269.76L334.31 267.81L334.71 265.96L335.11 264.19L335.51 262.51L335.91 260.91L336.31 259.39L336.71 257.94L337.11 256.56L337.50 255.25L337.90 254.00L338.30 252.81L338.70 251.68L339.10 250.61L339.50 249.59L340.30 247.69L341.10 245.97L341.90 244.41L342.70 243.00L343.50 241.72L344.30 240.57L345.09 239.52L345.89 238.58L346.69 237.72L347.49 236.95L348.29 236.24L349.09 235.61L349.89 235.04L350.69 234.52L351.49 234.05L352.28 233.62L353.08 233.24L353.88 232.89L354.68 232.58L355.48 232.30L356.28 232.07L357.08 231.87L357.88 231.69L358.68 231.53L359.47 231.39L360.27 231.27L360.81 231.20L360.91 231.76L361.02 232.32L361.13 232.87L361.23 233.40L361.34 233.93L361.45 234.45L361.55 234.96L361.66 235.46L361.76 235.95L361.87 236.44L361.98 236.91L362.08 237.38L362.19 237.84L362.30 238.29L362.40 238.74L362.51 239.18L362.62 239.61L362.72 240.03L362.83 240.45L362.94 240.86L363.04 241.26L363.15 241.66L363.26 242.05L363.36 242.43L363.47 242.81L363.87 244.17L364.27 245.45L364.67 246.66L365.07 247.81L365.47 248.88L365.87 249.90L366.27 250.85L366.66 251.68L367.06 252.48L367.46 253.23L367.86 253.93L368.26 254.60L368.66 255.24L369.06 255.84L369.46 256.41L369.86 256.96L370.26 257.47L370.66 257.97L371.06 258.44L371.46 258.88L372.52 259.99L373.59 260.97L374.65 261.86L375.72 262.67L376.78 263.41L377.85 264.09L378.91 264.73L379.98 265.32L381.04 265.88L382.11 266.41L383.18 266.91L384.24 267.39L385.31 267.85L386.37 268.29L387.44 268.72L388.50 269.13L389.57 269.53L390.63 269.92L391.70 270.30L392.76 270.66L395.43 271.54L398.09 272.37L400.75 273.15L403.41 273.88L406.08 274.58L408.74 275.25L411.40 275.88L414.07 276.48L416.73 277.05L419.39 277.59L422.06 278.10L424.72 278.59L427.38 279.05L430.04 279.49L432.71 279.91L435.37 280.31L438.03 280.68L440.70 281.04L443.36 281.38L446.02 281.71L448.69 282.02L451.35 282.31L454.01 282.59L456.67 282.85L459.34 283.10L462.00 283.34" fill="none" stroke="#33e000" stroke-width="1.5" stroke-linejoin="round"/>
<path d="M328.85 305.00L328.98 302.49L329.12 300.04L329.25 297.67L329.38 295.37L329.52 293.14L329.65 290.97L329.78 288.86L329.92 286.82L330.05 284.83L330.18 282.91L330.31 281.04L330.45 279.22L330.58 277.46L330.71 275.75L330.85 274.09L330.98 272.48L331.11 270.88L331.25 269.32L331.38 267.80L331.51 266.33L331.91 262.17L332.31 258.35L332.71 254.85L333.11 251.65L333.51 248.71L333.91 246.02L334.31 243.56L334.71 241.30L335.11 239.24L335.51 237.34L335.91 235.61L336.31 234.02L336.71 232.56L337.11 231.19L337.50 229.92L337.90 228.75L338.30 227.67L338.70 226.68L339.10 225.77L339.50 224.93L340.30 223.45L341.10 222.19L341.90 221.12L342.70 220.18L343.50 219.35L344.30 218.63L345.09 218.01L345.89 217.30L346.69 216.57L347.49 215.90L348.29 215.27L349.09 214.69L349.89 214.13L350.69 213.61L351.49 213.11L352.28 212.62L353.08 212.16L353.88 211.71L354.68 211.27L355.48 210.84L356.28 210.41L357.08 210.00L357.88 209.59L358.68 209.19L359.47 208.78L360.27 208.39L360.81 208.13L360.91 212.28L361.02 214.09L361.13 215.58L361.23 217.02L361.34 218.44L361.45 219.04L361.55 219.63L361.66 220.22L361.76 220.80L361.87 221.36L361.98 221.92L362.08 222.48L362.19 223.02L362.30 223.56L362.40 224.09L362.51 224.62L362.62 225.13L362.72 225.64L362.83 226.14L362.94 226.64L363.04 227.13L363.15 227.61L363.26 228.09L363.36 228.56L363.47 229.02L363.87 230.71L364.27 232.32L364.67 233.85L365.07 235.20L365.47 236.43L365.87 237.60L366.27 238.71L366.66 239.77L367.06 240.77L367.46 241.72L367.86 242.63L368.26 243.49L368.66 244.32L369.06 245.10L369.46 245.85L369.86 246.57L370.26 247.25L370.66 247.91L371.06 248.53L371.46 249.13L372.52 250.61L373.59 251.94L374.65 253.14L375.72 254.23L376.78 255.22L377.85 256.13L378.91 256.98L379.98 257.76L381.04 258.49L382.11 259.18L383.18 259.79L384.24 260.38L385.31 260.93L386.37 261.46L387.44 261.96L388.50 262.45L389.57 262.91L390.63 263.36L391.70 263.79L392.76 264.21L395.43 265.20L398.09 266.13L400.75 267.01L403.41 267.83L406.08 268.61L408.74 269.36L411.40 270.07L414.07 270.74L416.73 271.38L419.39 272.00L422.06 272.59L424.72 273.15L427.38 273.68L430.04 274.19L432.71 274.68L435.37 275.15L438.03 275.59L440.70 276.02L443.36 276.42L446.02 276.81L448.69 277.19L451.35 277.54L454.01 277.88L456.67 278.21L459.34 278.52L462.00 278.81" fill="none" stroke="#d0001c" stroke-width="1.5" stroke-linejoin="round"/>
<path d="M328.85 305.00L328.98 304.60L329.12 304.20L329.25 303.80L329.38 303.41L329.52 303.02L329.65 302.63L329.78 302.25L329.92 301.87L330.05 301.49L330.18 301.12L330.31 300.75L330.45 300.38L330.58 300.01L330.71 299.65L330.85 299.29L330.98 298.93L331.11 298.58L331.25 298.23L331.38 297.88L331.51 297.53L331.91 296.51L332.31 295.52L332.71 294.54L333.11 293.59L333.51 292.67L333.91 291.76L334.31 290.88L334.71 290.02L335.11 289.17L335.51 288.35L335.91 287.55L336.31 286.76L336.71 286.00L337.11 285.25L337.50 284.52L337.90 283.81L338.30 283.12L338.70 282.44L339.10 281.78L339.50 281.13L340.30 279.88L341.10 278.69L341.90 277.56L342.70 276.48L343.50 275.45L344.30 274.46L345.09 273.53L345.89 272.64L346.69 271.79L347.49 270.98L348.29 270.20L349.09 269.47L349.89 268.77L350.69 268.10L351.49 267.46L352.28 266.85L353.08 266.27L353.88 265.72L354.68 265.20L355.48 264.70L356.28 264.22L357.08 263.76L357.88 263.33L358.68 262.91L359.47 262.52L360.27 262.14L360.81 261.90L360.91 262.54L361.02 263.11L361.13 263.62L361.23 264.08L361.34 264.50L361.45 264.88L361.55 265.23L361.66 265.55L361.76 265.85L361.87 266.12L361.98 266.38L362.08 266.61L362.19 266.84L362.30 267.05L362.40 267.24L362.51 267.43L362.62 267.61L362.72 267.78L362.83 267.94L362.94 268.10L363.04 268.25L363.15 268.40L363.26 268.54L363.36 268.67L363.47 268.81L363.87 269.28L364.27 269.72L364.67 270.14L365.07 270.53L365.47 270.91L365.87 271.28L366.27 271.63L366.66 271.97L367.06 272.29L367.46 272.61L367.86 272.92L368.26 273.22L368.66 273.51L369.06 273.79L369.46 274.06L369.86 274.33L370.26 274.59L370.66 274.84L371.06 275.09L371.46 275.33L372.52 275.94L373.59 276.51L374.65 277.05L375.72 277.57L376.78 278.05L377.85 278.51L378.91 278.95L379.98 279.37L381.04 279.77L382.11 280.15L383.18 280.52L384.24 280.88L385.31 281.22L386.37 281.55L387.44 281.87L388.50 282.18L389.57 282.48L390.63 282.77L391.70 283.05L392.76 283.33L395.43 283.98L398.09 284.60L400.75 285.18L403.41 285.72L406.08 286.24L408.74 286.73L411.40 287.20L414.07 287.65L416.73 288.08L419.39 288.49L422.06 288.88L424.72 289.26L427.38 289.62L430.04 289.97L432.71 290.31L435.37 290.63L438.03 290.95L440.70 291.26L443.36 291.55L446.02 291.84L448.69 292.12L451.35 292.39L454.01 292.65L456.67 292.91L459.34 293.16L462.00 293.40" fill="none" stroke="#000" stroke-width="1.7" stroke-linejoin="round"/>
<path d="M328.85 305.00L328.98 304.47L329.12 303.94L329.25 303.42L329.38 302.90L329.52 302.39L329.65 301.88L329.78 301.38L329.92 300.88L330.05 300.38L330.18 299.89L330.31 299.41L330.45 298.93L330.58 298.45L330.71 297.98L330.85 297.51L330.98 297.04L331.11 296.58L331.25 296.13L331.38 295.67L331.51 295.23L331.91 293.91L332.31 292.62L332.71 291.37L333.11 290.15L333.51 288.97L333.91 287.81L334.31 286.69L334.71 285.60L335.11 284.53L335.51 283.50L335.91 282.49L336.31 281.51L336.71 280.55L337.11 279.62L337.50 278.72L337.90 277.84L338.30 276.98L338.70 276.15L339.10 275.34L339.50 274.55L340.30 273.03L341.10 271.59L341.90 270.23L342.70 268.93L343.50 267.71L344.30 266.55L345.09 265.45L345.89 264.41L346.69 263.43L347.49 262.49L348.29 261.61L349.09 260.77L349.89 259.98L350.69 259.22L351.49 258.51L352.28 257.84L353.08 257.20L353.88 256.59L354.68 256.02L355.48 255.47L356.28 254.96L357.08 254.47L357.88 254.00L358.68 253.57L359.47 253.15L360.27 252.76L360.81 252.51L360.91 253.41L361.02 254.20L361.13 254.90L361.23 255.52L361.34 256.08L361.45 256.58L361.55 257.02L361.66 257.43L361.76 257.80L361.87 258.13L361.98 258.44L362.08 258.73L362.19 258.99L362.30 259.24L362.40 259.47L362.51 259.69L362.62 259.90L362.72 260.10L362.83 260.29L362.94 260.47L363.04 260.64L363.15 260.81L363.26 260.97L363.36 261.13L363.47 261.28L363.87 261.82L364.27 262.32L364.67 262.79L365.07 263.23L365.47 263.65L365.87 264.05L366.27 264.44L366.66 264.81L367.06 265.16L367.46 265.51L367.86 265.84L368.26 266.16L368.66 266.46L369.06 266.76L369.46 267.05L369.86 267.33L370.26 267.60L370.66 267.87L371.06 268.13L371.46 268.38L372.52 269.01L373.59 269.61L374.65 270.18L375.72 270.71L376.78 271.22L377.85 271.70L378.91 272.17L379.98 272.61L381.04 273.04L382.11 273.46L383.18 273.86L384.24 274.24L385.31 274.62L386.37 274.98L387.44 275.33L388.50 275.67L389.57 276.01L390.63 276.33L391.70 276.65L392.76 276.95L395.43 277.68L398.09 278.37L400.75 279.02L403.41 279.63L406.08 280.21L408.74 280.76L411.40 281.28L414.07 281.78L416.73 282.26L419.39 282.71L422.06 283.14L424.72 283.56L427.38 283.96L430.04 284.34L432.71 284.71L435.37 285.07L438.03 285.41L440.70 285.75L443.36 286.07L446.02 286.38L448.69 286.68L451.35 286.98L454.01 287.27L456.67 287.55L459.34 287.82L462.00 288.09" fill="none" stroke="#000" stroke-width="1.7" stroke-linejoin="round"/>
<path d="M328.85 305.00L328.98 303.76L329.12 302.54L329.25 301.34L329.38 300.16L329.52 299.00L329.65 297.86L329.78 296.74L329.92 295.63L330.05 294.55L330.18 293.48L330.31 292.43L330.45 291.39L330.58 290.38L330.71 289.38L330.85 288.39L330.98 287.42L331.11 286.47L331.25 285.54L331.38 284.61L331.51 283.71L331.91 281.08L332.31 278.58L332.71 276.19L333.11 273.93L333.51 271.77L333.91 269.72L334.31 267.76L334.71 265.90L335.11 264.13L335.51 262.45L335.91 260.84L336.31 259.32L336.71 257.87L337.11 256.48L337.50 255.17L337.90 253.92L338.30 252.73L338.70 251.59L339.10 250.51L339.50 249.49L340.30 247.58L341.10 245.85L341.90 244.29L342.70 242.87L343.50 241.58L344.30 240.42L345.09 239.37L345.89 238.42L346.69 237.55L347.49 236.77L348.29 236.06L349.09 235.42L349.89 234.84L350.69 234.31L351.49 233.83L352.28 233.40L353.08 233.01L353.88 232.66L354.68 232.33L355.48 232.04L356.28 231.78L357.08 231.54L357.88 231.33L358.68 231.13L359.47 230.95L360.27 230.79L360.81 230.69L360.91 231.24L361.02 231.77L361.13 232.30L361.23 232.82L361.34 233.32L361.45 233.82L361.55 234.31L361.66 234.79L361.76 235.27L361.87 235.73L361.98 236.19L362.08 236.63L362.19 237.07L362.30 237.51L362.40 237.93L362.51 238.35L362.62 238.76L362.72 239.16L362.83 239.56L362.94 239.95L363.04 240.33L363.15 240.71L363.26 241.08L363.36 241.44L363.47 241.80L363.87 243.08L364.27 244.29L364.67 245.43L365.07 246.49L365.47 247.50L365.87 248.44L366.27 249.33L366.66 250.17L367.06 250.96L367.46 251.71L367.86 252.42L368.26 253.09L368.66 253.72L369.06 254.32L369.46 254.90L369.86 255.44L370.26 255.96L370.66 256.45L371.06 256.92L371.46 257.37L372.52 258.47L373.59 259.46L374.65 260.35L375.72 261.16L376.78 261.90L377.85 262.58L378.91 263.21L379.98 263.81L381.04 264.37L382.11 264.89L383.18 265.40L384.24 265.88L385.31 266.34L386.37 266.78L387.44 267.21L388.50 267.62L389.57 268.02L390.63 268.41L391.70 268.78L392.76 269.15L395.43 270.03L398.09 270.85L400.75 271.63L403.41 272.37L406.08 273.07L408.74 273.73L411.40 274.36L414.07 274.96L416.73 275.53L419.39 276.07L422.06 276.58L424.72 277.07L427.38 277.54L430.04 277.98L432.71 278.39L435.37 278.79L438.03 279.17L440.70 279.53L443.36 279.87L446.02 280.19L448.69 280.50L451.35 280.79L454.01 281.07L456.67 281.34L459.34 281.59L462.00 281.83" fill="none" stroke="#000" stroke-width="1.7" stroke-linejoin="round"/>
<path d="M328.85 305.00L328.98 302.44L329.12 299.95L329.25 297.53L329.38 295.18L329.52 292.90L329.65 290.68L329.78 288.53L329.92 286.44L330.05 284.41L330.18 282.43L330.31 280.52L330.45 278.66L330.58 276.85L330.71 275.09L330.85 273.38L330.98 271.72L331.11 270.11L331.25 268.55L331.38 267.03L331.51 265.55L331.91 261.37L332.31 257.54L332.71 254.02L333.11 250.80L333.51 247.85L333.91 245.14L334.31 242.66L334.71 240.38L335.11 238.30L335.51 236.39L335.91 234.64L336.31 233.03L336.71 231.56L337.11 230.21L337.50 228.97L337.90 227.84L338.30 226.80L338.70 225.85L339.10 224.97L339.50 224.17L340.30 222.76L341.10 221.58L341.90 220.59L342.70 219.75L343.50 219.05L344.30 218.46L345.09 217.97L345.89 217.55L346.69 217.20L347.49 216.91L348.29 216.66L349.09 216.45L349.89 216.28L350.69 216.13L351.49 216.01L352.28 215.91L353.08 215.82L353.88 215.75L354.68 215.69L355.48 215.63L356.28 215.59L357.08 215.55L357.88 215.52L358.68 215.50L359.47 215.48L360.27 215.46L360.81 215.45L360.91 218.74L361.02 219.70L361.13 220.33L361.23 220.91L361.34 221.47L361.45 222.02L361.55 222.57L361.66 223.11L361.76 223.64L361.87 224.16L361.98 224.67L362.08 225.18L362.19 225.68L362.30 226.17L362.40 226.66L362.51 227.13L362.62 227.60L362.72 228.07L362.83 228.52L362.94 228.97L363.04 229.41L363.15 229.85L363.26 230.28L363.36 230.70L363.47 231.12L363.87 232.63L364.27 234.07L364.67 235.42L365.07 236.71L365.47 237.93L365.87 239.09L366.27 240.18L366.66 241.23L367.06 242.22L367.46 243.16L367.86 244.06L368.26 244.91L368.66 245.72L369.06 246.49L369.46 247.23L369.86 247.94L370.26 248.61L370.66 249.25L371.06 249.87L371.46 250.45L372.52 251.90L373.59 253.20L374.65 254.37L375.72 255.42L376.78 256.39L377.85 257.27L378.91 258.08L379.98 258.83L381.04 259.53L382.11 260.19L383.18 260.80L384.24 261.38L385.31 261.93L386.37 262.46L387.44 262.96L388.50 263.44L389.57 263.90L390.63 264.34L391.70 264.77L392.76 265.19L395.43 266.17L398.09 267.09L400.75 267.96L403.41 268.77L406.08 269.55L408.74 270.28L411.40 270.98L414.07 271.65L416.73 272.28L419.39 272.89L422.06 273.47L424.72 274.02L427.38 274.55L430.04 275.05L432.71 275.53L435.37 275.99L438.03 276.42L440.70 276.84L443.36 277.24L446.02 277.62L448.69 277.99L451.35 278.33L454.01 278.66L456.67 278.98L459.34 279.28L462.00 279.57" fill="none" stroke="#000" stroke-width="1.7" stroke-linejoin="round"/>
<text transform="translate(188.60 28.20) scale(1.060 1)" class="kb">ka1 = 1.21 x 10<tspan dy="-2.5" font-size="4.3">4</tspan><tspan dy="2.5">/Ms</tspan></text>
<text transform="translate(188.60 36.60) scale(1.060 1)" class="kb">kd1 = 2.79 x 10<tspan dy="-2.5" font-size="4.3">−3</tspan><tspan dy="2.5">/s</tspan></text>
<text transform="translate(188.60 45.20) scale(1.060 1)" class="kr">k<tspan dy="2.1" font-size="5.6">D</tspan><tspan dy="-2.1">1</tspan> = 2.31 x 10<tspan dy="-2.5" font-size="4.3">−7</tspan><tspan dy="2.5">M</tspan></text>
<text transform="translate(188.60 60.60) scale(1.060 1)" class="kb">ka2 = 1.31 x 10<tspan dy="-2.5" font-size="4.3">3</tspan><tspan dy="2.5">/Ms</tspan></text>
<text transform="translate(188.60 69.10) scale(1.060 1)" class="kb">kd2 = 6.59 x 10<tspan dy="-2.5" font-size="4.3">2</tspan><tspan dy="2.5">/s</tspan></text>
<text transform="translate(188.60 77.60) scale(1.060 1)" class="kr">k<tspan dy="2.1" font-size="5.6">D</tspan><tspan dy="-2.1">2</tspan> = 5.02 x 10<tspan dy="-2.5" font-size="4.3">−7</tspan><tspan dy="2.5">M</tspan></text>
<text transform="translate(448.80 28.20) scale(1.060 1)" class="kb">ka1 = 3.70 x 10<tspan dy="-2.5" font-size="4.3">4</tspan><tspan dy="2.5">/Ms</tspan></text>
<text transform="translate(448.80 36.60) scale(1.060 1)" class="kb">kd1 = 3.15 x 10<tspan dy="-2.5" font-size="4.3">−3</tspan><tspan dy="2.5">/s</tspan></text>
<text transform="translate(448.80 45.20) scale(1.060 1)" class="kr">k<tspan dy="2.1" font-size="5.6">D</tspan><tspan dy="-2.1">1</tspan> = 8.50 x 10<tspan dy="-2.5" font-size="4.3">−8</tspan><tspan dy="2.5">M</tspan></text>
<text transform="translate(448.80 60.60) scale(1.060 1)" class="kb">ka2 = 1.59 x 10<tspan dy="-2.5" font-size="4.3">3</tspan><tspan dy="2.5">/Ms</tspan></text>
<text transform="translate(448.80 69.10) scale(1.060 1)" class="kb">kd2 = 3.68 x 10<tspan dy="-2.5" font-size="4.3">1</tspan><tspan dy="2.5">/s</tspan></text>
<text transform="translate(448.80 77.60) scale(1.060 1)" class="kr">k<tspan dy="2.1" font-size="5.6">D</tspan><tspan dy="-2.1">2</tspan> = 2.31 x 10<tspan dy="-2.5" font-size="4.3">−7</tspan><tspan dy="2.5">M</tspan></text>
<text transform="translate(188.60 208.20) scale(1.060 1)" class="kb">ka1 = 1.34 x 10<tspan dy="-2.5" font-size="4.3">4</tspan><tspan dy="2.5">/Ms</tspan></text>
<text transform="translate(188.60 216.60) scale(1.060 1)" class="kb">kd1 = 1.96 x 10<tspan dy="-2.5" font-size="4.3">−3</tspan><tspan dy="2.5">/s</tspan></text>
<text transform="translate(188.60 225.20) scale(1.060 1)" class="kr">k<tspan dy="2.1" font-size="5.6">D</tspan><tspan dy="-2.1">1</tspan> = 1.47 x 10<tspan dy="-2.5" font-size="4.3">−7</tspan><tspan dy="2.5">M</tspan></text>
<text transform="translate(188.60 240.60) scale(1.060 1)" class="kb">ka2 = 2.33 x 10<tspan dy="-2.5" font-size="4.3">3</tspan><tspan dy="2.5">/Ms</tspan></text>
<text transform="translate(188.60 249.10) scale(1.060 1)" class="kb">kd2 = 8.84 x 10<tspan dy="-2.5" font-size="4.3">1</tspan><tspan dy="2.5">/s</tspan></text>
<text transform="translate(188.60 257.60) scale(1.060 1)" class="kr">k<tspan dy="2.1" font-size="5.6">D</tspan><tspan dy="-2.1">2</tspan> = 3.79 x 10<tspan dy="-2.5" font-size="4.3">−7</tspan><tspan dy="2.5">M</tspan></text>
<text transform="translate(448.80 208.20) scale(1.060 1)" class="kb">ka1 = 4.34 x 10<tspan dy="-2.5" font-size="4.3">4</tspan><tspan dy="2.5">/Ms</tspan></text>
<text transform="translate(448.80 216.60) scale(1.060 1)" class="kb">kd1 = 2.07 x 10<tspan dy="-2.5" font-size="4.3">−3</tspan><tspan dy="2.5">/s</tspan></text>
<text transform="translate(448.80 225.20) scale(1.060 1)" class="kr">k<tspan dy="2.1" font-size="5.6">D</tspan><tspan dy="-2.1">1</tspan> = 4.78 x 10<tspan dy="-2.5" font-size="4.3">−8</tspan><tspan dy="2.5">M</tspan></text>
<text transform="translate(448.80 240.60) scale(1.060 1)" class="kb">ka2 = 1.07 x 10<tspan dy="-2.5" font-size="4.3">6</tspan><tspan dy="2.5">/Ms</tspan></text>
<text transform="translate(448.80 249.10) scale(1.060 1)" class="kb">kd2 = 1.47 x 10<tspan dy="-2.5" font-size="4.3">1</tspan><tspan dy="2.5">/s</tspan></text>
<text transform="translate(448.80 257.60) scale(1.060 1)" class="kr">k<tspan dy="2.1" font-size="5.6">D</tspan><tspan dy="-2.1">2</tspan> = 1.37 x 10<tspan dy="-2.5" font-size="4.3">−7</tspan><tspan dy="2.5">M</tspan></text>
<text transform="translate(138.60 73.90) scale(1.030 1)" class="lb" text-anchor="middle">Unprimed</text>
<text transform="translate(138.60 83.10) scale(1.030 1)" class="lb" text-anchor="middle">αIIbβ3</text>
<text transform="translate(403.50 64.60) scale(1.030 1)" class="lb" text-anchor="middle">PT25-2-</text>
<text transform="translate(403.50 73.60) scale(1.030 1)" class="lb" text-anchor="middle">primed</text>
<text transform="translate(403.50 82.90) scale(1.030 1)" class="lb" text-anchor="middle">αIIbβ3</text>
<text transform="translate(138.60 257.20) scale(1.030 1)" class="lb" text-anchor="middle">Unprimed</text>
<text transform="translate(138.60 266.40) scale(1.030 1)" class="lb" text-anchor="middle">αIIbβ3</text>
<text transform="translate(403.50 236.40) scale(1.030 1)" class="lb" text-anchor="middle">PT25-2-</text>
<text transform="translate(403.50 245.40) scale(1.030 1)" class="lb" text-anchor="middle">primed</text>
<text transform="translate(403.50 254.70) scale(1.030 1)" class="lb" text-anchor="middle">αIIbβ3</text>
<path d="M121.40 172H130.60" stroke="#1238cc" stroke-width="1.8"/>
<text transform="translate(133.00 174.50) scale(1.050 1)" class="lg">125 nM</text>
<path d="M175.40 172H184.20" stroke="#2c0ca0" stroke-width="1.8"/>
<text transform="translate(186.40 174.50) scale(1.050 1)" class="lg">250 nM</text>
<path d="M228.90 172H237.60" stroke="#33e000" stroke-width="1.8"/>
<text transform="translate(240.20 174.50) scale(1.050 1)" class="lg">500 nM</text>
<path d="M282.80 172H291.60" stroke="#d0001c" stroke-width="1.8"/>
<text transform="translate(293.70 174.50) scale(1.050 1)" class="lg">1000 nM</text>
<path d="M341.20 172H349.70" stroke="#404040" stroke-width="1.8"/>
<text transform="translate(352.50 174.50) scale(1.050 1)" class="lg">Fitted curve</text>
</svg></body></html>
